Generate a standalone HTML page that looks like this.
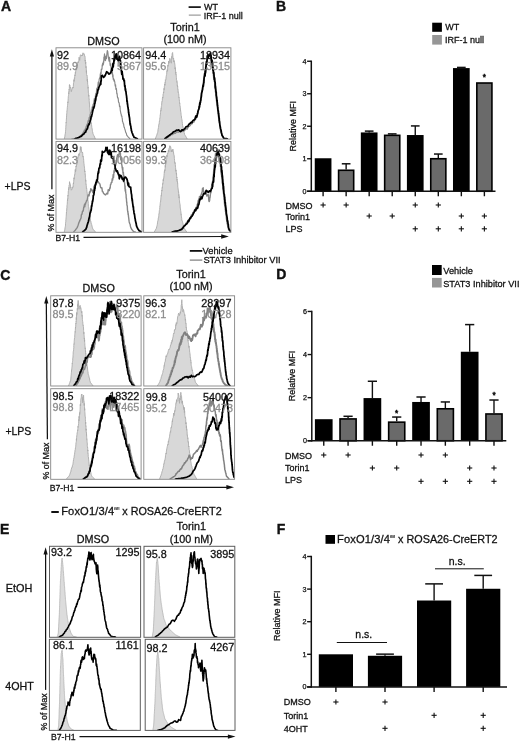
<!DOCTYPE html>
<html><head><meta charset="utf-8"><title>Figure</title>
<style>
html,body{margin:0;padding:0;background:#fff;}
body{width:520px;height:742px;overflow:hidden;font-family:"Liberation Sans",Arial,sans-serif;}
svg{display:block;}
svg text{font-family:"Liberation Sans",Arial,sans-serif;}
</style></head><body>
<svg width="520" height="742" viewBox="0 0 520 742">
<clipPath id="cpA1"><rect x="56.00" y="47.80" width="86.00" height="91.30"/></clipPath>
<g clip-path="url(#cpA1)">
<path d="M64.3 139.0 L64.5 138.0 L64.7 137.0 L64.9 136.2 L65.0 135.0 L65.2 134.1 L65.4 133.2 L65.5 131.7 L65.5 131.1 L65.6 130.2 L65.7 129.5 L65.8 127.4 L65.8 126.7 L65.9 125.4 L66.0 125.5 L66.0 124.3 L66.1 122.2 L66.2 122.8 L66.3 121.8 L66.3 120.2 L66.4 119.1 L66.5 117.2 L66.6 115.9 L66.6 115.9 L66.7 114.0 L66.8 113.2 L66.9 112.3 L66.9 110.8 L67.0 110.7 L67.1 109.7 L67.2 109.6 L67.3 107.7 L67.4 107.0 L67.5 105.6 L67.6 104.9 L67.7 103.4 L67.8 101.8 L67.9 102.7 L68.0 101.7 L68.1 100.2 L68.2 98.8 L68.3 96.6 L68.5 95.3 L68.6 94.4 L68.7 92.6 L68.8 93.7 L68.9 91.5 L69.0 91.9 L69.1 89.3 L69.2 90.2 L69.3 88.8 L69.4 84.8 L69.5 84.5 L69.6 85.9 L69.9 85.4 L70.2 88.2 L70.5 87.3 L70.7 87.2 L71.0 90.1 L71.3 91.7 L72.0 89.0 L72.8 87.3 L73.0 87.0 L73.1 88.1 L73.3 86.4 L73.5 83.1 L73.7 82.5 L73.8 80.9 L74.0 79.6 L74.2 81.3 L74.4 77.9 L74.6 78.3 L74.7 76.8 L74.9 74.8 L75.1 75.8 L75.3 72.4 L75.5 73.4 L75.8 70.2 L76.0 70.3 L76.2 68.4 L76.4 67.6 L76.6 69.5 L76.8 67.8 L77.0 64.5 L77.4 66.0 L77.7 62.0 L78.1 61.7 L78.4 62.8 L78.8 60.8 L79.1 57.2 L79.7 60.3 L80.2 55.6 L80.7 54.7 L81.3 56.1 L81.8 55.0 L82.3 56.0 L82.7 53.8 L83.0 52.8 L83.4 54.2 L84.1 53.6 L84.8 56.4 L85.0 56.3 L85.1 57.8 L85.2 61.2 L85.3 60.0 L85.4 61.5 L85.5 63.9 L85.7 61.9 L85.8 62.8 L85.9 67.2 L86.0 67.8 L86.1 66.4 L86.2 67.2 L86.3 70.6 L86.4 72.5 L86.5 70.5 L86.6 74.6 L86.8 75.4 L86.9 75.3 L87.0 75.7 L87.1 75.5 L87.2 76.3 L87.3 80.9 L87.4 79.2 L87.5 82.0 L87.6 81.4 L87.7 84.5 L87.8 84.8 L87.9 84.8 L88.0 85.4 L88.1 88.3 L88.2 87.2 L88.2 88.8 L88.3 91.0 L88.4 92.9 L88.5 93.2 L88.6 93.3 L88.7 96.3 L88.8 95.2 L88.9 95.7 L89.0 97.5 L89.1 99.1 L89.2 99.0 L89.2 100.4 L89.3 101.9 L89.4 103.5 L89.5 103.3 L89.6 104.9 L89.6 107.3 L89.7 108.5 L89.8 108.7 L89.9 109.8 L90.0 110.5 L90.0 110.5 L90.1 111.3 L90.2 112.3 L90.3 115.2 L90.4 115.8 L90.4 117.3 L90.5 116.4 L90.6 118.6 L90.7 119.3 L90.8 120.8 L90.9 121.1 L91.1 123.4 L91.3 122.8 L91.5 124.7 L91.7 126.1 L91.8 127.4 L92.0 128.1 L92.2 129.1 L92.4 130.3 L92.5 131.5 L92.7 131.9 L92.9 133.3 L93.3 134.4 L93.7 135.3 L94.2 136.0 L94.6 137.1 L95.0 138.1 L95.4 139.0" fill="#d8d8d8" stroke="#ababab" stroke-width="0.9" stroke-linejoin="round" stroke-linecap="round"/>
<path d="M71.7 139.0 L72.8 138.8 L73.8 138.6 L74.9 138.4 L76.0 138.1 L77.0 137.9 L78.1 137.7 L78.9 136.9 L79.8 136.5 L80.6 135.7 L81.5 134.9 L82.3 134.2 L82.8 133.4 L83.4 131.9 L83.9 131.4 L84.4 130.0 L85.0 130.5 L85.5 128.0 L85.8 128.5 L86.2 126.1 L86.5 126.4 L86.9 124.7 L87.2 123.9 L87.6 124.0 L88.0 121.1 L88.3 120.3 L88.7 121.4 L88.9 119.5 L89.2 117.4 L89.5 118.8 L89.8 117.7 L90.1 114.5 L90.4 114.4 L90.7 112.6 L91.0 112.1 L91.3 112.1 L91.5 109.8 L91.8 110.4 L92.1 107.3 L92.4 106.6 L92.7 107.7 L92.9 105.2 L93.2 104.2 L93.5 103.8 L93.8 102.3 L94.0 100.9 L94.3 98.6 L94.6 100.1 L94.8 100.0 L95.1 99.0 L95.3 96.7 L95.6 94.4 L95.8 93.4 L96.1 93.7 L96.4 92.6 L96.6 89.1 L96.9 88.6 L97.1 88.1 L97.4 87.6 L97.6 87.9 L97.9 85.5 L98.2 82.2 L98.4 84.9 L98.7 82.0 L99.0 81.3 L99.2 78.8 L99.5 78.8 L99.8 77.5 L100.0 78.4 L100.3 73.9 L100.6 75.2 L100.8 72.1 L101.1 73.8 L101.3 69.2 L101.6 69.4 L101.8 68.7 L102.0 69.3 L102.2 64.9 L102.4 66.2 L102.6 63.7 L102.8 63.0 L103.0 63.1 L103.3 65.0 L103.5 61.0 L103.7 62.9 L103.9 57.0 L104.1 60.7 L104.3 56.1 L104.5 53.9 L105.0 58.5 L105.5 60.6 L106.0 56.0 L106.3 56.5 L106.5 58.6 L106.8 54.8 L107.0 53.1 L107.3 50.5 L107.8 51.8 L108.3 56.6 L108.8 60.0 L109.0 61.1 L109.3 59.1 L109.5 57.2 L109.8 60.1 L110.0 63.9 L110.2 65.3 L110.4 65.2 L110.7 63.8 L110.9 66.6 L111.1 67.4 L111.3 69.3 L111.5 68.3 L111.7 73.1 L111.9 73.9 L112.2 71.0 L112.5 72.7 L112.7 76.9 L113.0 74.8 L113.2 79.3 L113.5 78.2 L113.8 80.1 L114.0 81.2 L114.3 79.9 L114.6 81.3 L114.8 82.2 L115.1 85.3 L115.4 86.4 L115.6 84.9 L115.9 89.3 L116.2 88.3 L116.4 88.6 L116.6 90.5 L116.8 93.8 L117.0 93.1 L117.2 94.5 L117.4 96.7 L117.6 97.9 L117.9 98.1 L118.1 97.9 L118.3 99.6 L118.5 101.8 L118.7 102.4 L118.9 102.7 L119.1 102.9 L119.3 104.1 L119.5 106.4 L119.8 106.8 L120.0 106.1 L120.2 109.4 L120.4 111.1 L120.6 111.8 L120.8 113.1 L121.0 114.2 L121.2 114.1 L121.4 115.9 L121.7 115.8 L121.9 116.2 L122.1 117.9 L122.3 118.9 L122.5 121.5 L122.8 121.9 L123.0 122.6 L123.3 123.8 L123.6 123.8 L123.8 125.8 L124.1 127.1 L124.4 127.6 L124.6 128.4 L125.0 129.7 L125.3 130.7 L125.7 132.3 L126.0 132.6 L126.4 133.7 L126.7 135.1 L127.5 136.2 L128.3 137.1 L129.1 137.9 L129.9 138.8" fill="none" stroke="#878787" stroke-width="1.15" stroke-linejoin="round" stroke-linecap="round"/>
<path d="M75.1 138.8 L76.2 138.3 L77.2 138.0 L78.3 137.6 L79.3 137.2 L80.4 136.6 L81.5 136.1 L82.3 135.2 L83.2 134.3 L84.0 133.9 L84.8 132.4 L85.7 132.1 L86.1 130.6 L86.5 129.8 L86.9 129.1 L87.3 128.9 L87.7 127.6 L88.1 125.6 L88.5 125.1 L88.9 123.9 L89.2 124.4 L89.4 123.4 L89.7 122.4 L90.0 121.5 L90.3 120.4 L90.6 119.9 L90.9 118.6 L91.2 116.3 L91.5 116.8 L91.8 115.0 L92.0 114.7 L92.3 113.2 L92.5 111.9 L92.8 110.7 L93.0 109.9 L93.3 108.6 L93.5 107.1 L93.8 108.2 L94.0 107.1 L94.2 106.8 L94.5 104.9 L94.7 103.5 L95.0 103.1 L95.2 100.1 L95.5 100.9 L95.8 99.0 L96.0 97.0 L96.3 96.1 L96.6 96.1 L96.9 94.1 L97.1 93.8 L97.4 93.3 L97.7 91.4 L98.0 89.3 L98.4 89.7 L98.8 87.6 L99.2 86.5 L99.7 85.3 L100.1 84.9 L100.5 82.6 L100.6 84.0 L100.8 84.3 L100.9 80.8 L101.1 81.2 L101.2 81.1 L101.3 76.0 L102.4 75.3 L103.5 77.4 L104.5 76.5 L105.6 74.5 L106.6 71.7 L107.7 72.4 L108.8 74.1 L109.8 73.7 L110.9 72.2 L111.9 68.1 L112.2 70.4 L112.5 66.8 L112.7 67.6 L113.0 63.4 L113.2 66.9 L113.5 63.8 L113.8 63.4 L114.0 59.5 L114.3 60.8 L114.5 59.5 L114.7 58.5 L114.9 56.1 L115.1 57.2 L116.2 53.9 L116.3 54.7 L116.5 55.0 L116.7 59.0 L116.9 56.8 L117.0 58.5 L117.2 58.7 L118.3 60.9 L118.8 59.4 L119.3 58.2 L119.5 56.4 L119.8 59.8 L120.0 60.3 L120.2 60.0 L120.4 60.6 L120.5 67.0 L120.7 63.4 L120.8 65.4 L120.9 66.3 L121.1 69.1 L121.2 67.5 L121.3 70.5 L121.4 71.1 L121.8 74.4 L122.1 71.4 L122.4 74.1 L122.7 75.9 L123.0 79.2 L123.4 78.2 L123.7 79.0 L124.0 81.0 L124.2 80.3 L124.3 80.3 L124.5 83.4 L124.7 86.2 L124.8 86.5 L125.0 85.5 L125.2 88.4 L125.3 90.1 L125.5 88.8 L125.7 91.1 L125.8 91.3 L126.0 91.9 L126.1 93.2 L126.2 93.9 L126.4 95.5 L126.5 95.5 L126.7 97.8 L126.8 97.8 L126.9 101.2 L127.1 101.7 L127.2 100.8 L127.4 104.3 L127.5 103.6 L127.7 105.5 L127.8 106.8 L128.0 107.2 L128.1 108.1 L128.3 109.6 L128.4 109.9 L128.6 112.9 L128.7 112.0 L128.9 114.9 L129.0 114.4 L129.1 115.7 L129.3 116.9 L129.4 117.2 L129.6 118.5 L129.7 120.1 L129.9 121.3 L130.0 123.3 L130.2 124.6 L130.3 123.7 L130.5 125.7 L130.8 126.0 L131.0 128.3 L131.2 128.5 L131.4 130.6 L131.6 131.0 L131.8 131.5 L132.0 132.5 L132.6 133.9 L133.1 135.4 L133.6 136.1 L134.1 137.3 L135.2 137.8 L136.3 138.3 L137.3 138.8" fill="none" stroke="#000" stroke-width="1.75" stroke-linejoin="round" stroke-linecap="round"/>
</g>
<rect x="56.00" y="47.80" width="86.00" height="91.30" fill="none" stroke="#858585" stroke-width="0.9"/>
<clipPath id="cpA2"><rect x="143.60" y="47.80" width="87.30" height="91.30"/></clipPath>
<g clip-path="url(#cpA2)">
<path d="M155.4 138.8 L155.7 137.8 L156.1 136.9 L156.4 136.0 L156.8 135.2 L157.1 133.9 L157.5 132.9 L157.7 132.3 L157.9 131.2 L158.0 129.6 L158.2 129.1 L158.4 127.6 L158.6 127.2 L158.7 125.1 L158.9 124.2 L159.1 124.2 L159.3 122.3 L159.4 121.0 L159.6 120.9 L159.7 119.6 L159.9 117.7 L160.0 117.5 L160.1 116.7 L160.2 114.7 L160.4 114.7 L160.5 112.6 L160.6 112.1 L160.7 110.5 L160.9 109.8 L161.0 110.6 L161.1 108.2 L161.2 108.6 L161.4 106.3 L161.5 105.7 L161.6 105.4 L161.7 104.0 L161.9 101.4 L162.1 101.6 L162.3 100.7 L162.4 98.3 L162.6 97.0 L162.8 98.2 L163.0 96.1 L163.1 94.1 L163.3 93.8 L163.5 92.0 L163.7 92.8 L163.8 90.8 L164.0 88.4 L164.2 89.7 L164.4 86.2 L164.6 85.8 L164.7 83.9 L164.9 85.3 L165.1 82.0 L165.3 82.4 L165.4 79.8 L165.6 80.1 L165.8 79.8 L166.0 78.2 L166.1 76.8 L166.3 75.9 L166.5 74.7 L166.7 74.2 L166.8 71.2 L167.0 71.6 L167.2 69.6 L167.4 71.1 L167.6 70.4 L167.7 65.6 L167.9 64.9 L168.1 66.3 L168.4 64.6 L168.6 61.1 L168.9 63.1 L169.2 63.2 L169.5 59.7 L169.8 58.3 L170.5 60.4 L171.3 63.2 L171.4 59.0 L171.6 58.1 L171.7 56.5 L171.9 57.5 L172.0 55.7 L172.2 53.6 L172.3 53.2 L172.6 52.5 L172.8 55.0 L173.1 59.2 L173.4 58.4 L173.6 58.0 L173.8 62.1 L174.0 60.5 L174.2 61.1 L174.4 61.2 L174.6 62.8 L174.8 64.1 L175.0 65.3 L175.1 69.1 L175.3 67.6 L175.4 68.6 L175.6 71.1 L175.7 73.4 L175.8 72.0 L176.0 74.9 L176.1 74.4 L176.3 76.2 L176.4 77.4 L176.5 79.8 L176.7 80.0 L176.8 80.1 L176.9 82.3 L177.0 81.6 L177.2 82.6 L177.3 85.7 L177.4 85.2 L177.5 87.0 L177.7 86.4 L177.8 89.4 L177.9 89.4 L178.0 89.2 L178.2 92.4 L178.3 91.9 L178.4 92.5 L178.5 93.3 L178.7 93.8 L178.8 95.1 L178.9 97.6 L179.0 97.0 L179.2 98.3 L179.3 99.8 L179.4 101.1 L179.5 101.7 L179.7 103.7 L179.8 103.3 L179.9 104.6 L180.0 105.8 L180.1 106.0 L180.3 107.3 L180.4 108.1 L180.5 110.5 L180.6 110.1 L180.8 112.3 L180.9 112.4 L181.1 114.4 L181.2 115.4 L181.4 115.9 L181.5 118.1 L181.7 118.6 L181.8 119.4 L182.0 119.6 L182.1 121.3 L182.3 122.1 L182.4 123.5 L182.6 125.3 L182.7 126.3 L182.9 126.1 L183.1 128.1 L183.4 129.5 L183.6 130.0 L183.9 130.4 L184.1 132.4 L184.3 133.0 L184.6 134.5 L185.1 135.3 L185.6 136.1 L186.1 137.0 L186.6 137.8 L187.1 138.8" fill="#d8d8d8" stroke="#ababab" stroke-width="0.9" stroke-linejoin="round" stroke-linecap="round"/>
<path d="M166.0 138.6 L166.8 138.1 L167.7 137.3 L168.5 136.9 L169.3 136.1 L170.2 135.9 L171.3 134.6 L172.3 134.7 L173.4 133.9 L174.4 133.5 L175.5 133.4 L176.5 132.2 L177.6 132.1 L178.7 132.3 L179.7 131.4 L180.8 131.1 L181.8 130.8 L182.9 131.6 L183.9 131.0 L185.0 130.3 L186.1 128.5 L187.1 129.3 L188.0 127.7 L188.8 126.4 L189.7 126.1 L190.5 125.2 L191.3 123.7 L192.0 123.9 L192.6 122.6 L193.3 122.2 L193.9 122.3 L194.5 120.7 L195.0 119.2 L195.4 119.5 L195.9 119.0 L196.3 116.7 L196.8 117.1 L197.2 113.6 L197.7 113.0 L197.9 112.0 L198.1 113.2 L198.3 111.4 L198.5 110.5 L198.8 108.1 L199.0 107.7 L199.2 107.9 L199.4 104.2 L199.6 103.2 L199.8 101.9 L200.0 102.3 L200.2 102.6 L200.3 100.5 L200.5 98.9 L200.7 98.2 L200.9 95.9 L201.0 97.8 L201.2 94.4 L201.4 92.9 L201.6 92.1 L201.8 93.2 L201.9 90.0 L202.1 91.5 L202.3 87.9 L202.5 87.3 L202.6 84.6 L202.8 87.4 L203.0 85.8 L203.2 83.2 L203.3 80.5 L203.5 81.2 L203.7 79.6 L203.9 80.8 L204.0 80.2 L204.2 78.3 L204.4 74.9 L204.6 72.5 L204.7 75.9 L204.9 75.2 L205.1 69.9 L205.2 70.7 L205.4 69.5 L205.6 71.2 L205.7 64.9 L205.9 63.9 L206.1 67.4 L206.3 64.7 L206.5 63.0 L206.7 63.9 L206.8 61.7 L207.0 61.3 L207.2 57.5 L207.6 55.4 L208.0 53.8 L208.3 54.8 L208.7 55.8 L210.4 55.1 L210.6 56.0 L210.8 58.7 L211.0 60.3 L211.2 60.7 L211.4 60.0 L211.5 64.2 L211.7 65.1 L211.9 66.6 L212.1 67.7 L212.3 63.6 L212.5 68.5 L212.6 67.6 L212.8 68.9 L212.9 70.6 L213.0 69.5 L213.1 71.1 L213.3 76.1 L213.4 73.6 L213.5 77.6 L213.6 77.4 L213.7 76.5 L213.9 77.5 L214.0 80.0 L214.1 81.4 L214.2 80.7 L214.4 80.3 L214.5 81.9 L214.6 86.1 L214.7 86.5 L214.8 84.7 L215.0 88.9 L215.1 88.8 L215.2 88.7 L215.3 92.1 L215.4 89.9 L215.5 90.8 L215.6 92.8 L215.7 95.4 L215.8 95.6 L216.0 96.4 L216.1 99.0 L216.2 98.1 L216.3 100.5 L216.4 98.6 L216.5 102.5 L216.6 101.2 L216.7 104.0 L216.9 105.6 L217.0 106.0 L217.1 106.7 L217.2 107.6 L217.4 109.2 L217.5 109.0 L217.6 109.6 L217.7 111.6 L217.9 112.5 L218.0 112.3 L218.1 114.5 L218.2 115.3 L218.4 115.5 L218.5 117.9 L218.6 119.1 L218.7 119.0 L218.9 121.3 L219.0 122.6 L219.2 122.9 L219.4 123.4 L219.6 124.1 L219.7 124.9 L219.9 126.3 L220.1 128.8 L220.3 128.0 L220.4 130.7 L220.6 131.3 L220.8 132.4 L221.0 132.6 L221.4 134.1 L221.8 134.7 L222.2 135.9 L222.7 136.9 L223.1 137.7 L223.5 138.6" fill="none" stroke="#878787" stroke-width="1.15" stroke-linejoin="round" stroke-linecap="round"/>
<path d="M164.9 138.6 L166.0 137.8 L167.0 137.0 L168.1 136.2 L168.9 135.6 L169.8 134.9 L170.6 134.5 L171.5 133.5 L172.3 133.2 L173.4 131.9 L174.4 131.7 L175.5 131.1 L176.5 130.1 L177.6 130.3 L178.7 129.9 L179.7 131.1 L180.8 131.7 L181.8 129.8 L182.9 130.2 L183.9 129.4 L185.0 128.4 L186.1 126.6 L187.1 126.7 L187.9 126.2 L188.7 124.7 L189.5 123.8 L190.3 123.2 L191.1 122.3 L191.9 122.6 L192.7 120.9 L193.5 120.2 L194.1 119.9 L194.7 119.7 L195.4 117.4 L196.0 115.9 L196.6 117.3 L197.0 115.9 L197.3 114.8 L197.7 113.0 L198.0 111.2 L198.4 109.9 L198.8 109.3 L199.0 108.6 L199.2 106.4 L199.4 107.2 L199.6 106.3 L199.8 103.0 L200.0 104.6 L200.2 102.4 L200.4 102.7 L200.7 100.2 L200.9 100.2 L201.0 98.0 L201.2 97.5 L201.4 96.1 L201.6 93.3 L201.8 92.6 L201.9 91.9 L202.1 91.5 L202.3 90.3 L202.5 89.9 L202.6 89.3 L202.8 87.2 L203.0 85.8 L203.2 85.5 L203.3 86.4 L203.5 84.6 L203.7 83.0 L203.9 82.7 L204.0 79.0 L204.2 77.3 L204.4 76.2 L204.6 75.2 L204.7 73.6 L204.9 75.5 L205.1 75.9 L205.2 70.9 L205.4 72.7 L205.5 72.9 L205.7 71.0 L205.8 66.8 L206.0 68.2 L206.1 65.2 L206.3 63.7 L206.4 61.7 L206.6 63.4 L206.8 64.5 L207.1 58.9 L207.3 58.1 L207.5 58.4 L207.8 55.3 L208.0 56.7 L208.3 57.2 L210.0 54.6 L210.3 53.2 L210.7 54.2 L211.1 56.2 L211.4 60.0 L211.6 62.5 L211.8 61.2 L212.0 60.0 L212.2 61.7 L212.3 63.9 L212.5 63.3 L212.7 64.4 L212.9 67.2 L213.0 70.3 L213.2 68.3 L213.4 72.6 L213.6 73.6 L213.7 72.4 L213.8 72.4 L213.9 73.2 L214.1 76.5 L214.2 78.2 L214.3 79.4 L214.4 77.4 L214.6 79.4 L214.7 78.6 L214.8 80.8 L214.9 81.8 L215.1 82.1 L215.2 82.9 L215.3 87.7 L215.4 85.9 L215.6 87.7 L215.7 88.8 L215.8 89.5 L215.9 91.0 L216.0 91.7 L216.1 92.6 L216.2 92.1 L216.3 95.2 L216.5 96.3 L216.6 97.5 L216.7 97.0 L216.8 98.5 L216.9 100.7 L217.0 101.4 L217.1 100.2 L217.2 102.2 L217.3 102.6 L217.5 105.3 L217.6 105.4 L217.7 106.4 L217.8 106.9 L217.9 108.6 L218.0 110.3 L218.2 111.0 L218.3 110.9 L218.4 112.4 L218.5 114.0 L218.7 113.5 L218.8 116.7 L218.9 115.5 L219.0 117.9 L219.2 117.8 L219.3 120.7 L219.4 121.1 L219.5 121.0 L219.7 122.6 L219.8 124.3 L219.9 125.3 L220.1 126.0 L220.3 127.0 L220.5 128.2 L220.8 129.6 L221.0 129.9 L221.2 131.2 L221.4 132.4 L221.6 133.1 L221.8 133.9 L222.0 135.2 L222.7 136.2 L223.4 137.4 L224.1 138.4 L225.2 138.5 L226.3 138.6 L227.3 138.8" fill="none" stroke="#000" stroke-width="1.75" stroke-linejoin="round" stroke-linecap="round"/>
</g>
<rect x="143.60" y="47.80" width="87.30" height="91.30" fill="none" stroke="#858585" stroke-width="0.9"/>
<clipPath id="cpA3"><rect x="56.00" y="141.40" width="86.00" height="90.90"/></clipPath>
<g clip-path="url(#cpA3)">
<path d="M64.3 231.9 L64.5 230.9 L64.7 230.0 L64.9 229.1 L65.0 227.8 L65.2 227.2 L65.4 226.2 L65.5 225.1 L65.5 223.4 L65.6 222.3 L65.7 221.8 L65.8 221.3 L65.9 219.5 L66.0 218.9 L66.0 217.6 L66.1 217.5 L66.2 216.7 L66.3 214.7 L66.4 214.8 L66.4 212.1 L66.5 212.5 L66.6 211.6 L66.7 209.2 L66.8 209.3 L66.8 208.0 L66.9 207.8 L67.0 205.2 L67.1 204.9 L67.2 204.6 L67.3 203.0 L67.4 201.2 L67.5 199.6 L67.6 200.6 L67.7 198.4 L67.8 198.7 L67.9 195.4 L68.0 196.1 L68.1 195.1 L68.2 194.3 L68.3 190.8 L68.5 190.7 L68.6 188.7 L68.7 189.7 L68.8 187.5 L69.0 188.2 L69.1 185.4 L69.2 185.6 L69.4 184.8 L69.5 181.7 L69.6 181.7 L69.8 184.1 L70.0 183.7 L70.3 184.3 L70.5 185.0 L70.7 187.7 L70.9 187.0 L71.1 189.3 L71.3 190.2 L72.0 189.1 L72.8 186.8 L72.9 187.3 L73.1 187.1 L73.2 184.1 L73.4 183.1 L73.5 183.9 L73.7 181.8 L73.8 179.7 L74.0 177.8 L74.2 179.2 L74.3 176.8 L74.5 176.1 L74.6 174.4 L74.8 174.6 L74.9 173.9 L75.1 171.3 L75.3 169.4 L75.5 171.8 L75.8 170.4 L76.0 165.9 L76.2 167.0 L76.4 166.4 L76.6 164.2 L76.8 164.5 L77.0 164.4 L77.3 161.8 L77.6 159.9 L77.8 158.0 L78.1 157.2 L78.3 155.7 L78.6 154.4 L78.9 153.8 L79.1 155.6 L79.4 153.2 L79.6 153.3 L79.9 152.9 L80.1 151.3 L80.4 146.6 L80.6 149.8 L81.0 146.8 L81.5 151.1 L81.9 152.5 L82.1 152.7 L82.3 152.5 L82.5 152.1 L82.7 153.2 L82.9 156.8 L83.2 156.1 L83.4 158.4 L83.5 158.3 L83.6 158.9 L83.7 160.6 L83.9 163.4 L84.0 163.5 L84.1 164.2 L84.2 165.6 L84.4 166.9 L84.5 167.9 L84.6 168.6 L84.7 171.7 L84.8 171.9 L84.9 170.9 L85.0 172.3 L85.1 172.8 L85.2 174.5 L85.3 174.3 L85.4 177.8 L85.5 178.2 L85.6 178.7 L85.7 181.3 L85.8 180.3 L85.9 182.2 L86.0 184.3 L86.1 184.1 L86.2 185.3 L86.3 185.5 L86.4 188.4 L86.5 188.7 L86.7 188.3 L86.8 189.5 L86.9 191.2 L87.0 191.9 L87.1 193.0 L87.2 193.1 L87.3 195.1 L87.4 196.4 L87.5 197.6 L87.7 197.8 L87.8 198.8 L87.9 199.9 L88.0 201.0 L88.1 201.9 L88.2 201.8 L88.3 203.4 L88.4 206.0 L88.5 206.6 L88.7 206.9 L88.8 208.5 L89.0 208.5 L89.1 209.6 L89.3 211.2 L89.4 212.6 L89.6 212.4 L89.7 214.3 L89.9 216.1 L90.0 216.6 L90.2 218.3 L90.3 217.9 L90.5 220.2 L90.6 221.2 L90.8 221.1 L91.1 222.8 L91.4 224.2 L91.7 224.6 L92.0 226.1 L92.3 227.3 L92.6 228.2 L92.9 229.1 L93.7 229.9 L94.6 231.0 L95.4 231.9" fill="#d8d8d8" stroke="#ababab" stroke-width="0.9" stroke-linejoin="round" stroke-linecap="round"/>
<path d="M73.8 231.9 L74.6 230.9 L75.4 230.0 L76.2 228.9 L77.0 227.9 L77.4 227.1 L77.7 226.2 L78.1 225.2 L78.4 224.3 L78.8 223.0 L79.1 222.0 L79.5 221.9 L79.8 220.2 L80.2 220.0 L80.5 219.3 L80.8 218.5 L81.1 217.7 L81.3 215.2 L81.6 214.2 L81.9 214.4 L82.2 213.1 L82.5 211.2 L82.8 211.4 L83.1 211.0 L83.4 210.0 L83.7 207.3 L84.1 206.6 L84.4 204.8 L84.8 206.7 L85.1 203.5 L85.5 204.1 L85.8 202.6 L86.2 201.8 L86.5 200.7 L87.0 200.6 L87.4 198.8 L87.8 196.7 L88.2 195.0 L88.7 195.2 L89.1 195.8 L89.5 191.9 L89.9 192.8 L90.3 191.6 L90.8 188.7 L91.8 189.9 L92.9 192.8 L93.2 190.8 L93.5 189.6 L93.7 188.9 L94.0 186.3 L94.3 187.7 L94.6 186.1 L95.1 184.9 L95.6 183.0 L96.2 184.0 L96.7 183.0 L97.3 182.5 L98.0 181.4 L98.6 182.4 L99.2 183.3 L99.9 184.0 L100.6 187.4 L101.3 188.1 L101.9 187.8 L102.4 191.6 L102.9 191.6 L103.5 193.2 L104.5 194.3 L105.6 194.9 L106.6 193.3 L107.7 193.9 L108.2 189.7 L108.8 190.7 L109.3 190.5 L109.8 187.8 L110.2 188.1 L110.5 184.5 L110.9 184.4 L111.2 182.7 L111.6 182.2 L111.9 182.4 L112.2 178.9 L112.5 178.7 L112.7 180.0 L113.0 176.4 L113.2 174.5 L113.5 177.6 L113.8 174.3 L114.0 170.7 L114.3 172.4 L114.5 169.2 L114.7 168.2 L114.9 170.1 L115.1 168.6 L115.3 166.3 L115.5 165.8 L115.7 164.9 L115.9 163.3 L116.1 160.3 L116.3 163.0 L116.5 161.9 L116.7 158.9 L116.8 157.7 L117.0 157.9 L117.2 156.0 L117.7 154.6 L118.2 156.3 L118.7 155.5 L119.5 151.9 L120.4 153.1 L120.6 157.9 L120.8 159.9 L121.0 159.6 L121.2 158.2 L121.4 157.9 L121.6 163.3 L121.7 164.9 L121.9 165.0 L122.0 165.9 L122.2 168.2 L122.3 166.9 L122.5 170.0 L122.6 167.6 L122.8 167.7 L122.9 172.7 L123.1 173.0 L123.2 174.5 L123.4 172.3 L123.5 174.2 L123.6 176.7 L123.8 175.3 L123.9 177.6 L124.1 179.9 L124.2 182.4 L124.3 182.5 L124.5 182.2 L124.6 183.3 L124.7 184.8 L124.9 186.8 L125.0 188.9 L125.1 185.9 L125.2 190.6 L125.3 191.2 L125.5 189.3 L125.6 191.2 L125.7 192.3 L125.8 193.2 L126.0 194.1 L126.1 195.1 L126.2 198.0 L126.3 198.3 L126.4 198.2 L126.6 201.7 L126.7 202.7 L126.8 202.0 L126.9 204.8 L127.1 205.6 L127.2 206.0 L127.3 205.8 L127.4 208.6 L127.5 210.1 L127.7 211.1 L127.8 212.3 L127.9 211.4 L128.1 214.4 L128.2 213.4 L128.4 215.1 L128.5 216.5 L128.7 217.8 L128.8 218.6 L129.0 220.5 L129.1 221.2 L129.3 222.4 L129.6 223.1 L129.8 223.8 L130.1 224.2 L130.4 226.1 L130.7 227.4 L131.0 227.9 L131.7 229.4 L132.4 230.1 L133.1 231.2 L134.1 231.6 L135.2 231.9" fill="none" stroke="#878787" stroke-width="1.4" stroke-linejoin="round" stroke-linecap="round"/>
<path d="M82.7 231.9 L83.5 231.2 L84.3 230.6 L85.1 229.8 L85.9 229.1 L86.3 228.0 L86.6 227.5 L87.0 225.7 L87.4 224.4 L87.7 223.5 L88.1 222.4 L88.4 221.4 L88.7 220.3 L88.9 218.9 L89.1 218.2 L89.4 217.1 L89.6 216.6 L89.8 214.8 L90.0 213.4 L90.3 212.6 L90.5 212.3 L90.7 210.9 L91.0 210.7 L91.2 209.8 L91.4 207.8 L91.5 205.9 L91.7 206.5 L91.9 205.5 L92.1 203.5 L92.3 203.1 L92.4 201.1 L92.6 201.8 L92.8 200.5 L93.0 199.4 L93.1 198.8 L93.3 195.5 L93.5 195.4 L93.7 195.0 L93.9 194.2 L94.2 191.7 L94.4 189.8 L94.6 190.5 L94.8 187.5 L95.0 188.6 L95.2 185.0 L95.4 185.6 L95.7 184.6 L96.0 182.2 L96.2 182.5 L96.5 181.5 L96.7 179.9 L97.0 181.1 L97.3 179.9 L97.5 179.0 L97.8 175.1 L98.0 173.1 L98.2 173.6 L98.4 171.3 L98.6 173.0 L98.8 169.9 L99.0 168.2 L99.2 167.8 L99.4 167.3 L99.7 167.9 L99.9 165.5 L100.2 163.6 L100.5 164.5 L100.7 160.2 L101.0 159.9 L101.2 161.4 L101.5 160.7 L101.8 156.1 L101.9 154.9 L102.0 156.2 L102.2 156.0 L102.3 151.3 L102.4 152.6 L103.5 152.2 L104.5 151.7 L104.9 151.1 L105.2 150.7 L105.6 150.7 L105.9 147.5 L106.3 149.5 L106.6 149.9 L106.9 149.8 L107.1 147.3 L107.4 151.7 L107.6 152.7 L107.9 150.2 L108.1 153.4 L108.5 153.8 L109.0 154.5 L109.4 153.3 L109.8 150.2 L110.1 151.4 L110.4 154.5 L110.7 151.3 L110.9 154.1 L111.2 152.7 L111.5 157.7 L112.2 158.0 L113.0 156.7 L113.2 157.7 L113.5 160.5 L113.7 162.7 L114.0 160.6 L114.2 162.7 L114.5 164.7 L114.9 164.5 L115.3 168.6 L115.7 168.9 L116.2 171.0 L116.6 170.6 L117.0 171.8 L117.4 171.0 L117.9 173.1 L118.2 173.8 L118.6 175.1 L119.0 174.4 L119.3 178.8 L120.4 175.3 L121.4 176.1 L122.2 179.1 L122.9 178.4 L123.6 181.0 L124.6 177.4 L125.7 177.2 L126.2 177.9 L126.7 178.7 L127.2 179.9 L127.5 181.3 L127.8 184.0 L128.2 185.5 L128.5 183.2 L128.9 186.4 L129.7 186.9 L130.5 187.6 L130.7 187.3 L130.8 189.5 L131.0 190.4 L131.1 191.7 L131.3 193.5 L131.4 193.8 L131.6 194.6 L131.7 195.6 L131.9 198.9 L132.0 198.1 L132.2 201.0 L132.3 199.6 L132.5 202.1 L132.6 202.9 L132.8 204.3 L132.9 204.9 L133.1 206.9 L133.2 207.2 L133.4 206.8 L133.5 209.5 L133.7 210.4 L133.8 210.6 L134.0 212.7 L134.2 214.0 L134.4 213.8 L134.5 214.6 L134.7 216.0 L134.9 217.7 L135.0 218.5 L135.2 218.8 L135.4 220.6 L135.7 221.8 L135.9 222.9 L136.2 223.6 L136.4 225.3 L136.6 226.2 L136.9 226.8 L137.4 227.8 L137.9 229.0 L138.5 229.6 L139.0 230.6 L140.3 231.2 L141.5 231.9" fill="none" stroke="#000" stroke-width="1.75" stroke-linejoin="round" stroke-linecap="round"/>
</g>
<rect x="56.00" y="141.40" width="86.00" height="90.90" fill="none" stroke="#858585" stroke-width="0.9"/>
<clipPath id="cpA4"><rect x="143.60" y="141.40" width="87.30" height="90.90"/></clipPath>
<g clip-path="url(#cpA4)">
<path d="M154.3 231.9 L154.9 231.0 L155.4 230.0 L155.9 229.1 L156.4 228.3 L156.7 226.8 L156.9 226.1 L157.1 225.4 L157.3 224.4 L157.5 222.9 L157.7 221.3 L157.9 220.5 L158.1 220.4 L158.3 217.9 L158.6 217.2 L158.7 217.3 L158.8 215.4 L158.9 214.0 L159.1 213.2 L159.2 213.3 L159.3 211.2 L159.4 210.4 L159.6 209.8 L159.7 209.2 L159.8 207.5 L159.9 205.7 L160.1 205.7 L160.2 203.5 L160.3 202.6 L160.4 201.9 L160.6 202.0 L160.7 200.1 L160.8 200.1 L160.9 197.7 L161.0 196.6 L161.2 195.4 L161.3 196.1 L161.4 195.6 L161.5 192.8 L161.7 191.9 L161.8 190.2 L161.9 191.0 L162.0 189.0 L162.2 187.6 L162.3 188.1 L162.4 186.9 L162.5 185.5 L162.7 183.6 L162.8 184.1 L162.9 182.8 L163.1 181.3 L163.2 179.4 L163.4 180.9 L163.5 179.6 L163.7 178.0 L163.8 178.0 L164.0 175.5 L164.2 173.6 L164.3 171.7 L164.5 172.4 L164.6 171.0 L164.8 169.7 L164.9 170.8 L165.1 169.1 L165.3 165.2 L165.4 167.2 L165.6 162.6 L165.8 164.2 L166.0 161.7 L166.1 162.4 L166.3 162.3 L166.5 159.5 L166.7 159.4 L166.8 155.2 L167.0 156.9 L167.4 153.4 L167.7 153.8 L168.1 152.2 L168.4 149.9 L168.8 152.0 L169.1 147.9 L169.5 147.6 L169.8 145.7 L170.2 147.4 L170.4 146.7 L170.6 146.6 L170.8 147.6 L171.0 149.5 L171.3 152.0 L171.5 150.7 L171.9 149.7 L172.3 151.7 L172.7 149.9 L172.9 149.1 L173.2 151.0 L173.4 151.3 L173.6 153.0 L173.8 154.6 L174.0 154.9 L174.2 155.9 L174.3 157.1 L174.4 158.5 L174.6 160.6 L174.7 163.1 L174.9 163.1 L175.0 163.3 L175.2 162.6 L175.3 164.4 L175.5 167.3 L175.6 167.4 L175.7 170.1 L175.9 171.3 L176.0 169.9 L176.1 171.2 L176.2 172.0 L176.4 174.3 L176.5 173.2 L176.6 174.9 L176.7 178.0 L176.9 177.2 L177.0 180.3 L177.1 179.3 L177.2 181.8 L177.4 181.5 L177.5 181.4 L177.6 183.9 L177.7 183.7 L177.8 187.0 L177.9 187.3 L178.0 187.8 L178.2 189.9 L178.3 189.8 L178.4 192.0 L178.5 192.3 L178.6 191.8 L178.7 193.1 L178.8 195.6 L178.9 194.6 L179.0 197.9 L179.2 196.5 L179.3 199.3 L179.4 200.0 L179.5 200.5 L179.6 201.9 L179.7 202.9 L179.8 203.4 L180.0 204.2 L180.1 204.7 L180.2 207.0 L180.3 208.5 L180.5 208.4 L180.6 210.4 L180.7 210.5 L180.8 211.2 L181.0 213.2 L181.1 214.4 L181.2 213.9 L181.3 216.3 L181.5 216.3 L181.6 218.1 L181.7 218.3 L181.8 220.4 L182.1 220.4 L182.4 221.3 L182.6 222.2 L182.9 223.4 L183.2 224.4 L183.4 226.3 L183.7 226.7 L183.9 227.9 L184.6 228.9 L185.3 229.9 L186.0 231.0 L186.7 231.9" fill="#d8d8d8" stroke="#ababab" stroke-width="0.9" stroke-linejoin="round" stroke-linecap="round"/>
<path d="M173.4 231.9 L174.4 231.6 L175.5 231.3 L176.5 231.1 L177.6 230.8 L178.7 230.4 L179.7 230.3 L180.8 229.6 L181.8 228.8 L182.9 228.1 L183.5 227.0 L184.2 225.8 L184.8 225.4 L185.4 224.8 L186.1 223.1 L186.7 223.5 L187.3 221.7 L188.0 220.8 L188.6 219.6 L189.2 220.6 L189.8 219.2 L190.3 218.7 L190.8 217.2 L191.3 215.0 L191.9 214.8 L192.4 214.3 L192.9 212.5 L193.5 213.7 L194.0 211.4 L194.5 209.9 L195.1 210.8 L195.6 208.0 L196.0 209.2 L196.4 206.8 L196.9 206.0 L197.3 204.3 L197.7 203.7 L198.0 201.7 L198.3 200.2 L198.6 201.8 L198.9 198.6 L199.2 199.4 L199.5 196.4 L199.8 198.0 L200.3 196.7 L200.9 195.2 L201.4 194.1 L201.9 192.4 L202.2 191.9 L202.5 188.5 L202.7 188.9 L203.0 189.2 L203.2 187.8 L203.5 191.6 L203.7 192.5 L204.0 191.8 L204.2 192.7 L204.5 194.1 L206.2 192.8 L206.9 196.0 L207.6 194.9 L208.3 194.7 L208.5 196.0 L208.7 199.2 L208.9 201.1 L209.1 200.6 L209.3 201.6 L209.5 200.7 L209.7 200.3 L209.8 197.5 L210.0 197.8 L210.2 196.5 L210.3 195.7 L210.5 193.1 L210.6 192.0 L210.8 191.5 L211.0 192.7 L211.2 189.4 L211.3 189.3 L211.5 187.1 L211.7 185.2 L211.8 184.0 L212.0 186.0 L212.2 184.8 L212.3 182.1 L212.5 182.3 L212.6 181.3 L212.7 181.2 L212.9 180.5 L213.0 176.9 L213.1 178.6 L213.2 177.4 L213.4 174.6 L213.5 175.0 L213.6 172.0 L213.7 170.3 L213.8 168.6 L214.0 170.8 L214.1 166.0 L214.2 164.4 L214.3 167.3 L214.5 166.1 L214.6 163.5 L214.7 164.4 L214.9 158.9 L215.0 159.0 L215.1 158.1 L215.3 157.8 L215.4 155.3 L215.5 153.6 L215.7 154.1 L215.9 156.5 L216.2 156.0 L216.5 153.5 L216.7 150.7 L217.3 150.4 L217.9 155.8 L218.4 154.2 L218.6 156.5 L218.9 153.3 L219.1 155.5 L219.3 160.2 L219.5 161.0 L219.7 162.6 L219.9 162.0 L220.1 162.1 L220.2 164.0 L220.4 166.5 L220.5 164.6 L220.6 166.9 L220.7 166.6 L220.8 170.2 L221.0 167.4 L221.1 171.9 L221.2 174.3 L221.3 170.7 L221.5 174.6 L221.6 175.9 L221.7 177.9 L221.8 177.7 L221.9 177.2 L222.0 178.9 L222.1 182.4 L222.2 183.1 L222.3 180.7 L222.4 181.5 L222.5 182.6 L222.6 183.3 L222.7 186.1 L222.8 185.8 L222.9 189.7 L223.0 189.9 L223.1 188.8 L223.2 191.4 L223.3 191.6 L223.4 193.2 L223.5 193.2 L223.6 194.1 L223.7 195.2 L223.9 197.0 L224.0 199.2 L224.1 199.7 L224.2 199.1 L224.4 202.3 L224.5 203.9 L224.6 204.6 L224.7 205.7 L224.8 204.4 L225.0 206.8 L225.1 206.8 L225.2 209.8 L225.3 209.2 L225.5 211.7 L225.6 211.6 L225.8 213.8 L225.9 213.9 L226.0 214.3 L226.2 216.2 L226.3 217.1 L226.5 219.4 L226.6 219.2 L226.7 220.7 L226.9 221.8 L227.1 223.6 L227.3 223.0 L227.5 224.9 L227.7 225.8 L227.9 227.0 L228.2 228.1 L228.4 228.7 L228.6 229.8 L229.6 230.8 L230.7 231.9" fill="none" stroke="#878787" stroke-width="1.4" stroke-linejoin="round" stroke-linecap="round"/>
<path d="M172.3 231.9 L173.4 231.7 L174.4 231.4 L175.5 231.2 L176.5 231.1 L177.6 230.8 L178.7 230.5 L179.7 230.2 L180.8 229.6 L181.8 229.3 L182.5 228.1 L183.1 227.8 L183.7 226.4 L184.4 225.9 L185.0 225.5 L185.8 224.4 L186.6 224.0 L187.4 222.9 L188.2 220.9 L188.7 221.5 L189.2 220.1 L189.8 218.7 L190.3 217.6 L190.8 218.0 L191.3 216.6 L191.9 216.5 L192.4 215.3 L192.9 214.8 L193.5 213.1 L194.0 212.5 L194.5 211.4 L195.2 209.7 L195.8 210.6 L196.4 208.1 L197.1 208.5 L197.7 208.1 L198.0 206.3 L198.4 203.8 L198.8 204.7 L199.1 203.2 L199.5 200.7 L199.8 199.2 L200.5 199.6 L201.2 197.0 L201.9 198.7 L202.5 196.4 L203.0 195.3 L203.5 193.9 L204.0 193.7 L205.1 193.6 L206.2 190.4 L207.2 191.2 L208.3 192.4 L209.3 190.9 L210.4 191.4 L211.0 190.2 L211.5 188.7 L212.1 188.5 L212.3 186.9 L212.5 184.2 L212.6 186.6 L212.8 183.1 L213.0 182.3 L213.2 181.1 L213.4 182.2 L213.6 181.3 L213.7 178.4 L213.8 176.9 L213.9 174.5 L214.1 176.9 L214.2 172.7 L214.3 173.3 L214.4 171.3 L214.5 170.2 L214.7 169.2 L214.8 167.4 L214.9 165.6 L215.0 166.9 L215.2 167.1 L215.3 165.4 L215.4 162.1 L215.6 163.5 L215.7 159.1 L215.8 159.9 L215.9 161.1 L216.1 160.5 L216.2 157.0 L216.3 158.1 L216.6 155.1 L216.8 154.2 L217.1 153.5 L217.3 154.7 L217.6 152.3 L218.2 151.8 L218.9 154.3 L219.1 154.8 L219.3 154.3 L219.6 157.7 L219.8 158.9 L220.1 158.9 L220.3 161.7 L220.5 157.9 L220.7 161.4 L220.8 163.2 L220.9 162.8 L221.0 163.0 L221.1 166.6 L221.3 166.4 L221.4 166.7 L221.5 166.7 L221.6 172.1 L221.8 170.3 L221.9 170.3 L222.0 171.8 L222.1 173.0 L222.2 176.8 L222.3 174.8 L222.4 176.2 L222.5 176.5 L222.6 179.1 L222.7 179.0 L222.8 180.5 L222.9 183.1 L223.0 184.8 L223.1 185.5 L223.2 183.4 L223.3 185.7 L223.4 188.4 L223.5 186.4 L223.6 188.1 L223.7 190.1 L223.8 190.7 L223.9 193.0 L224.0 193.9 L224.2 194.1 L224.3 194.5 L224.4 195.5 L224.5 196.7 L224.7 197.1 L224.8 200.0 L224.9 199.6 L225.0 202.8 L225.1 203.1 L225.3 202.5 L225.4 204.8 L225.5 206.1 L225.6 205.7 L225.8 208.0 L225.9 207.9 L226.0 210.7 L226.2 210.0 L226.3 212.5 L226.5 214.4 L226.6 215.1 L226.7 214.8 L226.9 216.5 L227.0 216.8 L227.2 218.3 L227.3 220.3 L227.5 221.3 L227.7 220.9 L227.9 222.6 L228.1 224.1 L228.3 224.5 L228.4 226.3 L228.6 227.4 L228.8 228.1 L229.0 229.1 L229.7 230.2 L230.4 231.0 L231.1 231.9" fill="none" stroke="#000" stroke-width="1.75" stroke-linejoin="round" stroke-linecap="round"/>
</g>
<rect x="143.60" y="141.40" width="87.30" height="90.90" fill="none" stroke="#858585" stroke-width="0.9"/>
<clipPath id="cpC1"><rect x="50.70" y="295.80" width="90.40" height="90.20"/></clipPath>
<g clip-path="url(#cpC1)">
<path d="M68.6 385.7 L69.0 384.7 L69.4 383.6 L69.8 382.6 L70.3 381.0 L70.7 380.3 L70.8 379.1 L70.9 378.1 L71.0 376.5 L71.1 375.5 L71.2 374.8 L71.3 373.4 L71.4 372.7 L71.5 371.0 L71.6 370.0 L71.7 370.0 L71.8 368.4 L71.9 367.5 L72.0 366.9 L72.2 365.1 L72.2 363.5 L72.3 364.0 L72.4 362.6 L72.5 361.7 L72.6 360.6 L72.7 360.4 L72.8 358.1 L72.9 358.0 L73.0 356.1 L73.0 355.5 L73.1 354.8 L73.2 352.9 L73.3 351.3 L73.4 351.3 L73.5 350.9 L73.6 349.6 L73.7 348.2 L73.8 347.7 L73.8 345.5 L73.9 344.4 L74.0 343.8 L74.1 344.3 L74.2 341.4 L74.3 340.2 L74.4 339.1 L74.5 337.9 L74.6 337.6 L74.6 337.6 L74.7 337.4 L74.8 334.8 L74.9 333.9 L75.0 332.6 L75.1 331.6 L75.2 332.3 L75.3 330.5 L75.4 328.4 L75.5 326.9 L75.5 328.4 L75.6 327.0 L75.7 326.4 L75.8 323.1 L75.9 323.3 L76.0 323.7 L76.1 321.3 L76.2 321.7 L76.3 317.5 L76.4 319.7 L76.5 314.9 L76.6 315.3 L76.7 312.6 L76.7 314.9 L76.8 313.3 L76.9 313.5 L77.0 311.7 L77.2 311.4 L77.3 308.4 L77.4 309.5 L77.6 307.3 L77.7 304.4 L77.8 306.3 L77.9 302.4 L78.1 300.4 L78.3 300.9 L78.4 303.9 L78.6 303.7 L78.8 308.2 L79.0 309.3 L79.1 307.0 L80.2 305.4 L80.5 308.4 L80.9 307.8 L81.2 310.6 L81.5 312.8 L81.9 311.4 L82.0 313.2 L82.1 316.3 L82.2 315.4 L82.3 316.1 L82.4 319.4 L82.5 320.1 L82.6 321.5 L82.7 321.7 L82.8 321.7 L82.9 323.8 L83.1 325.4 L83.2 325.7 L83.3 325.3 L83.4 326.6 L83.5 328.0 L83.6 330.4 L83.6 330.7 L83.7 331.7 L83.8 333.7 L83.9 332.3 L84.0 335.2 L84.1 335.2 L84.2 337.0 L84.3 339.0 L84.4 338.2 L84.5 341.4 L84.6 339.8 L84.7 342.3 L84.8 343.3 L84.8 343.5 L84.9 345.4 L85.0 346.1 L85.1 347.1 L85.2 348.8 L85.3 347.9 L85.4 349.9 L85.5 351.9 L85.6 351.3 L85.7 354.1 L85.8 353.5 L85.9 355.6 L86.0 355.4 L86.1 357.1 L86.2 358.0 L86.3 358.2 L86.4 360.6 L86.5 361.1 L86.7 362.6 L86.8 363.4 L87.0 364.4 L87.1 365.4 L87.2 366.1 L87.4 368.2 L87.5 367.8 L87.7 370.3 L87.8 371.3 L88.0 371.7 L88.1 373.2 L88.2 374.1 L88.5 375.1 L88.8 375.7 L89.0 376.8 L89.3 377.9 L89.6 378.9 L89.8 380.6 L90.1 381.2 L90.3 382.3 L91.0 383.1 L91.6 384.1 L92.3 384.8 L92.9 385.7" fill="#d8d8d8" stroke="#ababab" stroke-width="0.9" stroke-linejoin="round" stroke-linecap="round"/>
<path d="M76.0 385.7 L76.5 384.8 L77.0 384.1 L77.6 382.7 L78.1 382.7 L78.6 380.6 L79.1 380.6 L79.6 378.1 L80.0 378.9 L80.4 375.9 L80.8 376.7 L81.3 375.7 L81.7 374.8 L82.1 372.6 L82.5 373.2 L82.9 372.7 L83.4 368.0 L83.9 368.6 L84.4 369.5 L85.0 367.5 L85.5 365.1 L85.8 363.4 L86.2 365.5 L86.5 360.1 L86.9 362.5 L87.2 361.9 L87.6 357.2 L88.4 357.4 L89.3 356.6 L90.1 357.2 L90.5 355.1 L90.8 357.1 L91.2 356.3 L91.5 351.6 L91.9 354.1 L92.3 347.8 L92.6 346.9 L93.0 349.6 L93.3 349.4 L93.7 348.5 L94.0 348.7 L94.4 346.8 L94.5 341.5 L94.7 343.9 L94.9 344.2 L95.1 336.9 L95.2 338.9 L95.4 335.2 L95.8 334.0 L96.3 335.6 L96.7 336.1 L97.1 337.6 L97.6 331.7 L98.2 335.8 L98.7 340.8 L99.2 340.0 L99.4 337.1 L99.6 333.7 L99.8 335.8 L99.9 331.7 L100.1 333.8 L100.3 332.8 L100.5 329.5 L100.6 332.0 L100.8 327.5 L101.0 327.0 L101.2 329.3 L101.3 322.9 L101.8 321.2 L102.2 323.8 L102.6 321.4 L103.0 324.6 L103.4 319.6 L103.8 321.9 L104.2 320.0 L104.5 324.7 L104.7 322.4 L104.9 322.6 L105.1 324.6 L105.3 316.5 L105.4 324.7 L105.6 320.9 L105.8 320.9 L106.0 317.1 L106.3 316.5 L106.6 313.7 L106.9 312.5 L107.1 309.5 L107.4 309.3 L107.7 308.1 L108.1 307.5 L108.5 312.8 L109.0 310.6 L109.4 307.8 L109.8 301.8 L110.1 305.6 L110.5 309.8 L110.9 312.5 L111.2 308.4 L111.5 309.7 L111.8 311.8 L112.1 303.5 L112.4 303.7 L113.2 309.1 L114.0 305.2 L114.9 310.5 L115.7 307.7 L116.6 304.3 L117.4 310.0 L117.7 306.8 L118.0 315.5 L118.2 317.2 L118.5 314.9 L118.7 319.8 L119.0 313.8 L119.3 317.2 L119.5 315.6 L119.8 315.5 L120.1 324.1 L120.3 317.7 L120.6 327.2 L120.9 324.7 L121.1 327.0 L121.4 322.2 L121.7 331.0 L121.8 331.0 L122.0 326.0 L122.2 327.7 L122.4 328.5 L122.5 332.6 L122.7 330.2 L122.9 337.1 L123.1 335.7 L123.2 338.4 L123.4 336.0 L123.6 340.1 L123.8 339.7 L124.0 342.2 L124.1 341.5 L124.3 346.7 L124.5 346.7 L124.7 347.6 L124.8 345.3 L125.0 345.3 L125.2 346.2 L125.4 347.1 L125.5 353.5 L125.7 350.3 L125.9 355.0 L126.1 352.1 L126.2 355.5 L126.4 354.4 L126.6 355.8 L126.8 359.3 L126.9 359.6 L127.1 362.5 L127.3 359.8 L127.5 361.1 L127.7 361.1 L127.8 363.0 L128.0 367.6 L128.2 366.7 L128.4 367.4 L128.6 367.9 L128.9 370.7 L129.1 371.4 L129.3 370.4 L129.5 371.1 L129.7 372.6 L129.9 376.0 L130.1 376.8 L130.5 376.1 L130.8 377.3 L131.2 378.6 L131.5 380.6 L131.9 381.7 L132.2 382.0 L132.9 383.0 L133.5 383.9 L134.1 385.0 L134.8 385.7" fill="none" stroke="#878787" stroke-width="1.6" stroke-linejoin="round" stroke-linecap="round"/>
<path d="M73.8 385.7 L74.5 384.8 L75.1 384.1 L75.8 383.2 L76.4 381.9 L77.0 381.7 L77.4 380.4 L77.9 378.3 L78.3 379.0 L78.7 376.5 L79.1 375.5 L79.5 374.7 L79.8 374.1 L80.2 371.8 L80.5 372.2 L80.9 371.6 L81.3 369.7 L81.7 369.4 L82.1 367.9 L82.5 367.5 L82.9 364.4 L83.4 363.9 L83.8 363.2 L84.2 360.9 L84.6 362.8 L85.1 360.6 L85.5 357.6 L86.5 358.3 L87.6 356.6 L88.7 354.7 L89.7 353.5 L90.1 353.6 L90.4 350.9 L90.8 351.9 L91.1 350.6 L91.5 347.9 L91.8 350.2 L92.2 345.3 L92.5 344.8 L92.9 346.8 L93.2 342.9 L93.6 342.8 L93.9 342.4 L94.3 340.7 L94.7 340.0 L95.0 339.0 L95.4 337.8 L95.7 334.4 L96.1 337.5 L96.4 333.5 L96.7 331.1 L96.9 332.1 L97.2 333.4 L97.5 331.2 L98.1 331.3 L98.7 332.5 L99.2 332.1 L99.4 333.3 L99.6 330.7 L99.7 327.9 L99.9 327.2 L100.1 325.9 L100.2 328.4 L100.4 328.6 L100.6 326.8 L100.8 322.4 L100.9 320.8 L101.1 325.0 L101.2 320.1 L101.4 317.7 L101.5 319.3 L101.7 318.6 L101.8 317.0 L102.0 315.3 L102.1 313.2 L102.3 313.5 L102.4 312.2 L102.7 314.9 L102.9 314.2 L103.2 314.7 L103.5 320.1 L104.0 312.9 L104.6 316.4 L105.2 313.0 L105.7 316.8 L106.1 317.1 L106.6 317.2 L106.8 316.4 L106.9 312.7 L107.0 310.1 L107.1 314.3 L107.3 309.7 L107.4 307.5 L107.5 311.7 L107.6 309.0 L107.7 303.6 L107.9 306.3 L108.0 302.5 L108.1 306.9 L108.3 303.3 L108.4 309.6 L108.6 308.1 L108.8 305.1 L108.9 308.6 L109.1 313.9 L109.2 312.9 L109.4 310.0 L109.6 310.5 L109.7 308.7 L109.9 306.3 L110.0 309.0 L110.2 308.7 L110.4 304.0 L110.5 305.5 L110.7 306.9 L110.9 306.1 L111.2 301.4 L111.5 301.8 L111.8 309.4 L112.1 305.9 L112.4 305.7 L113.2 309.5 L114.0 304.3 L114.3 308.9 L114.6 309.7 L114.9 307.8 L115.2 310.1 L115.5 309.9 L115.7 314.7 L116.1 312.0 L116.5 313.0 L116.8 318.2 L117.2 315.2 L117.6 317.4 L117.9 319.0 L118.3 316.6 L118.6 319.6 L119.0 323.6 L119.3 326.2 L119.5 323.1 L119.8 325.0 L120.0 323.5 L120.2 327.2 L120.4 327.5 L120.6 329.4 L120.8 329.3 L121.0 330.5 L121.2 335.0 L121.4 335.2 L121.6 333.9 L121.8 333.4 L122.0 334.4 L122.2 335.7 L122.3 337.0 L122.5 340.4 L122.7 341.2 L122.9 340.3 L123.0 345.0 L123.2 345.1 L123.4 346.3 L123.6 348.2 L123.7 346.6 L123.9 350.3 L124.1 351.6 L124.3 352.4 L124.4 349.7 L124.6 354.2 L124.8 355.7 L125.0 353.2 L125.1 357.3 L125.3 358.1 L125.5 356.2 L125.7 359.8 L125.9 361.0 L126.0 362.0 L126.2 360.7 L126.4 364.8 L126.6 362.9 L126.7 364.1 L126.9 367.8 L127.1 367.4 L127.3 367.6 L127.4 369.3 L127.6 371.0 L127.8 371.1 L128.1 373.9 L128.3 374.3 L128.6 374.6 L128.9 375.7 L129.1 376.1 L129.4 379.1 L129.6 378.8 L129.9 380.8 L130.4 381.3 L131.0 382.3 L131.5 383.2 L132.0 384.4 L133.1 385.0 L134.1 385.7" fill="none" stroke="#000" stroke-width="1.75" stroke-linejoin="round" stroke-linecap="round"/>
</g>
<rect x="50.70" y="295.80" width="90.40" height="90.20" fill="none" stroke="#858585" stroke-width="0.9"/>
<clipPath id="cpC2"><rect x="143.80" y="295.80" width="90.80" height="90.20"/></clipPath>
<g clip-path="url(#cpC2)">
<path d="M157.5 385.7 L158.2 384.6 L158.9 383.4 L159.6 382.2 L160.0 381.3 L160.3 379.8 L160.7 379.4 L161.0 378.4 L161.4 376.4 L161.7 376.2 L162.0 374.9 L162.3 374.1 L162.5 373.5 L162.8 372.5 L163.1 370.5 L163.3 370.2 L163.6 369.1 L163.8 368.4 L164.1 365.6 L164.3 366.2 L164.5 363.8 L164.7 362.5 L164.9 362.4 L165.1 361.9 L165.3 361.1 L165.5 358.7 L165.8 358.7 L166.0 355.8 L166.5 357.0 L167.0 354.3 L167.6 353.9 L168.1 351.8 L168.4 350.5 L168.8 349.3 L169.1 349.8 L169.5 348.6 L169.8 348.3 L170.2 347.3 L170.5 345.1 L170.9 345.2 L171.3 342.3 L171.6 343.3 L172.0 340.3 L172.3 341.4 L172.6 338.6 L172.8 337.7 L173.1 336.9 L173.4 334.3 L173.6 333.3 L173.9 333.8 L174.2 333.3 L174.4 330.0 L174.7 330.2 L175.0 329.0 L175.2 329.4 L175.5 329.1 L175.7 324.7 L176.0 325.4 L176.3 322.6 L176.5 324.2 L176.8 323.8 L177.1 321.8 L177.3 320.2 L177.6 317.0 L177.9 316.1 L178.1 315.6 L178.4 313.9 L178.7 313.1 L179.5 315.5 L180.3 311.8 L180.5 313.2 L180.6 311.5 L180.8 310.6 L180.9 310.2 L181.1 308.1 L181.2 305.4 L181.4 305.0 L181.5 303.5 L181.7 300.7 L181.8 299.7 L182.0 303.3 L182.1 304.1 L182.2 307.3 L182.4 306.7 L182.5 308.7 L182.6 308.2 L182.8 309.7 L182.9 311.8 L183.3 309.4 L183.7 310.4 L184.2 313.3 L184.6 313.7 L184.7 315.4 L184.9 314.9 L185.0 316.4 L185.2 317.2 L185.3 320.3 L185.5 319.1 L185.6 320.1 L185.8 323.8 L185.9 323.8 L186.1 323.4 L186.2 327.9 L186.4 327.3 L186.5 330.0 L186.7 330.0 L186.8 330.6 L186.9 331.2 L187.1 331.2 L187.2 335.2 L187.4 334.5 L187.5 335.1 L187.7 335.7 L187.8 338.2 L188.0 340.5 L188.1 339.7 L188.2 342.0 L188.4 342.7 L188.5 343.2 L188.7 344.7 L188.8 346.0 L189.0 347.5 L189.1 346.2 L189.2 347.5 L189.4 348.8 L189.5 349.3 L189.6 350.9 L189.7 352.3 L189.9 352.7 L190.0 354.4 L190.1 354.3 L190.2 357.4 L190.4 357.9 L190.5 357.5 L190.6 358.8 L190.7 361.0 L190.9 360.7 L191.0 362.9 L191.1 362.5 L191.2 364.6 L191.3 365.7 L191.6 366.5 L191.8 368.0 L192.0 369.3 L192.2 370.5 L192.4 369.9 L192.6 371.7 L192.8 372.2 L193.0 374.2 L193.3 374.5 L193.5 375.5 L193.8 376.4 L194.2 377.5 L194.5 378.9 L194.9 379.9 L195.2 381.3 L195.6 382.5 L196.2 383.2 L196.9 384.0 L197.5 384.8 L198.1 385.7" fill="#d8d8d8" stroke="#ababab" stroke-width="0.9" stroke-linejoin="round" stroke-linecap="round"/>
<path d="M166.0 385.7 L166.7 384.6 L167.4 383.5 L168.1 382.6 L168.4 381.0 L168.8 379.7 L169.1 379.6 L169.5 377.8 L169.8 376.8 L170.2 376.6 L170.5 374.3 L170.9 374.7 L171.3 372.8 L171.6 370.8 L172.0 371.6 L172.3 369.8 L172.7 367.6 L173.0 368.3 L173.4 367.1 L173.7 366.0 L174.1 364.7 L174.4 364.6 L174.7 360.9 L175.0 362.5 L175.2 360.5 L175.5 358.3 L175.7 358.3 L176.0 356.4 L176.3 356.3 L176.5 355.5 L176.9 353.8 L177.2 351.4 L177.6 351.3 L178.0 349.9 L178.3 350.4 L178.7 350.0 L179.0 348.4 L179.4 346.5 L179.7 344.0 L180.1 345.0 L180.4 342.3 L180.8 344.1 L181.1 339.7 L181.5 341.9 L181.8 336.9 L182.2 339.1 L182.5 336.2 L182.9 336.1 L183.6 334.3 L184.3 332.8 L185.0 332.3 L186.1 335.1 L187.1 334.1 L187.8 335.2 L188.5 338.0 L189.2 336.5 L189.9 338.3 L190.6 340.1 L191.3 341.1 L191.8 338.6 L192.2 340.1 L192.6 337.8 L193.0 335.1 L193.5 335.1 L194.5 334.4 L195.6 336.2 L196.0 334.1 L196.4 333.6 L196.9 333.9 L197.3 333.5 L197.7 330.6 L198.2 330.3 L198.8 329.5 L199.3 328.8 L199.8 329.3 L200.9 324.8 L201.9 326.6 L202.3 324.4 L202.6 325.1 L203.0 323.0 L203.3 318.3 L203.7 317.5 L204.0 320.5 L205.1 316.7 L206.2 317.4 L206.4 313.4 L206.7 315.0 L207.0 313.0 L207.3 312.3 L207.6 308.5 L207.9 312.7 L208.3 311.4 L208.8 309.7 L209.3 308.0 L209.6 306.6 L209.9 307.5 L210.2 312.4 L210.5 310.4 L210.8 311.8 L211.0 315.7 L211.2 313.7 L211.4 318.4 L211.7 315.0 L211.9 319.7 L212.1 317.7 L212.3 318.0 L212.5 320.8 L212.7 323.7 L212.8 321.0 L213.0 324.6 L213.2 327.0 L213.4 323.9 L213.5 327.3 L213.7 327.5 L213.9 329.3 L214.0 332.0 L214.2 331.2 L214.3 331.7 L214.5 332.3 L214.7 336.1 L214.8 334.2 L215.0 337.8 L215.1 340.0 L215.3 339.7 L215.4 341.7 L215.6 339.5 L215.7 342.5 L215.9 343.6 L216.0 342.6 L216.2 345.0 L216.3 345.6 L216.5 346.0 L216.6 348.1 L216.8 348.1 L216.9 352.0 L217.1 350.5 L217.2 352.8 L217.4 354.4 L217.5 353.3 L217.7 357.3 L217.8 358.2 L218.0 358.2 L218.1 359.1 L218.3 361.1 L218.4 361.4 L218.6 361.5 L218.8 364.4 L219.0 363.6 L219.1 365.5 L219.3 366.6 L219.5 368.1 L219.7 368.2 L219.8 369.9 L220.0 370.0 L220.2 372.2 L220.4 372.1 L220.5 373.5 L220.8 375.0 L221.1 376.4 L221.5 377.8 L221.8 378.9 L222.1 379.1 L222.4 379.7 L222.7 381.3 L223.3 382.2 L223.9 383.2 L224.6 383.8 L225.2 384.9 L226.3 385.2 L227.3 385.7" fill="none" stroke="#808080" stroke-width="1.9" stroke-linejoin="round" stroke-linecap="round"/>
<path d="M172.3 385.7 L173.4 385.1 L174.4 384.5 L175.5 384.0 L176.3 383.2 L177.1 382.4 L177.9 381.9 L178.7 381.2 L179.7 380.3 L180.8 379.7 L181.8 379.6 L182.9 378.1 L183.9 377.7 L185.0 376.9 L186.1 377.0 L187.1 376.6 L188.2 377.8 L189.2 376.4 L190.3 377.2 L191.3 375.3 L192.4 376.8 L193.5 376.3 L194.5 376.7 L195.6 376.2 L196.6 375.0 L197.7 374.4 L198.8 374.5 L199.8 372.8 L200.9 371.9 L201.6 372.3 L202.3 370.9 L203.0 369.1 L203.4 368.6 L203.8 368.4 L204.3 365.9 L204.7 364.5 L205.1 364.1 L205.3 362.5 L205.6 361.9 L205.8 360.0 L206.0 360.8 L206.3 359.9 L206.5 357.6 L206.7 356.6 L207.0 355.2 L207.2 356.1 L207.4 354.9 L207.6 353.2 L207.7 350.6 L207.9 349.5 L208.1 350.4 L208.3 347.4 L208.5 348.0 L208.6 346.1 L208.8 343.7 L209.0 343.2 L209.2 344.7 L209.3 341.5 L209.5 341.7 L209.7 341.0 L209.9 338.6 L210.0 337.9 L210.2 338.3 L210.4 336.7 L210.6 334.8 L210.7 333.8 L210.9 332.4 L211.1 331.2 L211.3 331.2 L211.4 328.3 L211.6 330.0 L211.8 326.4 L212.0 325.0 L212.2 327.3 L212.3 321.9 L212.5 322.6 L212.7 322.3 L212.9 320.7 L213.0 321.5 L213.2 319.7 L213.4 317.8 L213.6 314.2 L213.8 318.2 L214.0 313.9 L214.2 312.8 L214.4 311.0 L214.6 309.8 L214.8 308.2 L215.0 307.3 L215.3 309.2 L215.6 306.1 L215.8 306.2 L216.1 306.0 L216.4 301.6 L216.7 304.5 L217.3 302.3 L217.9 306.8 L218.4 308.4 L218.6 306.9 L218.7 307.3 L218.9 309.4 L219.0 312.6 L219.2 314.0 L219.3 313.7 L219.5 313.0 L219.6 314.1 L219.8 316.7 L219.9 315.9 L220.0 319.2 L220.2 318.1 L220.3 320.3 L220.4 321.1 L220.5 322.1 L220.6 324.7 L220.8 326.0 L220.9 326.5 L221.0 326.9 L221.1 326.8 L221.3 327.9 L221.4 329.3 L221.5 331.9 L221.6 332.4 L221.7 330.7 L221.8 332.3 L221.9 332.6 L222.0 334.6 L222.1 337.7 L222.2 337.9 L222.3 336.5 L222.4 340.3 L222.5 340.8 L222.6 341.3 L222.7 340.7 L222.8 341.6 L222.9 342.8 L223.0 346.7 L223.1 346.0 L223.2 345.9 L223.3 349.4 L223.4 349.3 L223.5 349.8 L223.6 351.0 L223.7 351.4 L223.8 351.9 L223.9 355.2 L224.0 356.4 L224.1 355.9 L224.2 357.5 L224.3 359.3 L224.4 358.0 L224.5 361.6 L224.6 360.3 L224.7 362.0 L224.8 362.2 L224.9 363.6 L225.0 364.6 L225.1 365.9 L225.3 367.4 L225.4 368.9 L225.5 369.6 L225.6 371.2 L225.8 372.6 L225.9 372.3 L226.0 373.6 L226.1 375.1 L226.3 375.5 L226.5 376.3 L226.7 378.7 L227.0 379.4 L227.2 380.4 L227.5 381.7 L227.7 382.6 L228.4 383.7 L229.1 384.7 L229.9 385.7" fill="none" stroke="#000" stroke-width="1.75" stroke-linejoin="round" stroke-linecap="round"/>
</g>
<rect x="143.80" y="295.80" width="90.80" height="90.20" fill="none" stroke="#858585" stroke-width="0.9"/>
<clipPath id="cpC3"><rect x="50.70" y="388.70" width="90.40" height="90.60"/></clipPath>
<g clip-path="url(#cpC3)">
<path d="M66.4 479.0 L67.2 478.1 L68.0 477.1 L68.8 476.3 L69.6 475.1 L69.9 474.2 L70.2 473.1 L70.5 472.2 L70.8 472.0 L71.1 469.8 L71.3 469.3 L71.6 468.1 L71.9 467.3 L72.2 467.3 L72.5 465.3 L72.8 464.8 L73.0 463.4 L73.1 462.9 L73.3 461.4 L73.5 459.8 L73.7 459.2 L73.8 458.1 L74.0 457.8 L74.2 456.3 L74.4 454.5 L74.6 454.4 L74.7 452.5 L74.9 452.0 L75.0 450.3 L75.2 449.7 L75.3 449.6 L75.4 448.0 L75.5 447.6 L75.7 446.6 L75.8 445.2 L75.9 444.3 L76.0 442.7 L76.2 442.3 L76.3 441.7 L76.4 438.9 L76.5 440.2 L76.6 437.6 L76.8 435.9 L76.9 435.0 L77.0 434.5 L77.1 432.7 L77.3 432.7 L77.4 431.7 L77.5 431.5 L77.6 429.9 L77.8 430.5 L77.9 428.6 L78.0 426.4 L78.1 427.3 L78.3 425.7 L78.4 425.7 L78.5 423.9 L78.6 423.7 L78.8 420.0 L78.9 419.3 L79.0 420.8 L79.1 416.3 L79.2 418.6 L79.3 417.6 L79.5 413.5 L79.6 412.5 L79.7 414.5 L79.8 413.6 L79.9 412.2 L80.0 410.6 L80.1 409.7 L80.2 406.7 L80.3 404.3 L80.4 405.9 L80.5 406.0 L80.6 405.3 L80.7 402.3 L80.9 398.9 L81.0 398.6 L81.1 398.8 L81.3 396.7 L81.4 394.7 L81.5 394.4 L81.7 394.8 L81.9 394.1 L82.0 395.1 L82.2 396.4 L82.4 396.9 L82.6 401.4 L82.7 402.8 L82.9 398.7 L83.1 399.7 L83.2 399.8 L83.4 395.7 L83.6 395.1 L83.7 398.7 L83.7 399.2 L83.8 399.6 L83.9 401.5 L84.0 401.5 L84.1 401.4 L84.2 404.1 L84.3 405.6 L84.3 403.4 L84.4 405.7 L84.5 406.6 L84.6 410.2 L84.7 408.7 L84.8 411.4 L84.8 411.5 L84.9 412.3 L85.0 413.8 L85.1 416.3 L85.1 416.4 L85.2 416.4 L85.3 416.5 L85.4 418.2 L85.4 419.7 L85.5 421.4 L85.6 423.7 L85.7 422.2 L85.7 425.4 L85.8 426.3 L85.9 425.7 L86.0 426.0 L86.0 427.0 L86.1 430.3 L86.2 428.9 L86.2 431.4 L86.3 432.4 L86.4 431.9 L86.5 432.6 L86.5 435.4 L86.6 434.7 L86.7 437.2 L86.8 439.4 L86.9 438.9 L86.9 439.5 L87.0 440.0 L87.1 441.5 L87.2 442.6 L87.3 443.1 L87.3 445.6 L87.4 446.3 L87.5 447.6 L87.6 447.2 L87.7 448.5 L87.8 451.1 L87.8 450.0 L87.9 451.8 L88.0 453.8 L88.1 453.6 L88.2 454.6 L88.2 456.4 L88.4 456.7 L88.5 458.0 L88.6 459.1 L88.7 460.0 L88.9 461.7 L89.0 462.9 L89.1 464.0 L89.2 465.4 L89.3 465.0 L89.5 466.4 L89.6 468.5 L89.7 469.3 L90.0 470.3 L90.3 470.6 L90.6 471.6 L90.9 472.9 L91.2 474.4 L91.5 475.3 L91.8 476.2 L92.7 477.2 L93.7 478.1 L94.6 479.0" fill="#d8d8d8" stroke="#ababab" stroke-width="0.9" stroke-linejoin="round" stroke-linecap="round"/>
<path d="M83.8 479.0 L84.6 478.3 L85.3 477.6 L86.1 476.7 L86.8 476.4 L87.6 475.3 L88.0 474.3 L88.3 473.5 L88.7 473.1 L89.0 473.2 L89.4 470.7 L89.7 471.6 L90.0 470.6 L90.2 466.9 L90.5 465.1 L90.8 464.4 L91.0 466.0 L91.3 464.0 L91.6 464.3 L91.8 463.5 L92.0 461.1 L92.3 459.5 L92.5 456.2 L92.7 454.9 L92.9 457.7 L93.1 456.0 L93.3 455.4 L93.5 453.3 L93.7 452.9 L93.9 451.6 L94.2 452.1 L94.4 446.5 L94.6 447.7 L94.8 445.5 L95.0 447.6 L95.2 446.9 L95.4 441.9 L95.6 439.7 L95.8 439.6 L96.1 439.0 L96.3 441.1 L96.5 437.5 L96.8 438.9 L97.0 434.6 L97.2 435.2 L97.5 431.6 L97.7 434.0 L97.9 431.9 L98.2 433.6 L98.4 433.3 L98.6 428.8 L98.9 424.1 L99.1 430.2 L99.4 429.2 L99.6 424.2 L99.8 423.2 L100.1 426.1 L100.3 419.1 L100.5 418.0 L100.8 420.9 L101.0 419.7 L101.2 418.8 L101.5 419.1 L101.7 415.0 L101.9 413.1 L102.2 410.1 L102.4 408.9 L102.8 409.4 L103.1 408.9 L103.4 411.0 L103.8 408.8 L104.1 406.6 L104.5 404.1 L104.8 405.7 L105.2 402.0 L105.7 407.5 L106.2 406.9 L106.7 408.5 L107.3 406.2 L107.5 406.6 L107.8 407.8 L108.0 409.3 L108.3 403.6 L108.5 400.2 L108.8 403.3 L109.0 398.0 L109.2 401.5 L109.5 399.3 L109.7 406.0 L110.0 403.8 L110.2 406.4 L110.4 409.5 L110.7 406.8 L110.9 399.3 L111.1 402.6 L111.3 396.8 L111.5 404.8 L111.7 400.1 L111.9 403.0 L112.4 397.4 L112.8 404.8 L113.2 398.2 L113.6 407.3 L114.5 403.1 L115.3 400.8 L115.9 410.6 L116.6 410.6 L117.2 404.7 L117.9 409.6 L118.5 409.4 L118.7 407.1 L119.0 411.0 L119.3 417.5 L119.5 412.7 L119.8 417.4 L120.1 418.4 L120.3 419.5 L120.6 419.1 L120.9 422.8 L121.2 418.8 L121.5 421.1 L121.8 421.8 L122.1 419.9 L122.4 424.3 L122.7 427.7 L123.1 427.2 L123.6 425.0 L124.0 426.6 L124.4 429.6 L124.8 427.7 L125.0 429.5 L125.2 434.7 L125.4 431.0 L125.6 432.2 L125.8 433.6 L126.0 437.2 L126.2 434.8 L126.4 440.5 L126.6 440.7 L126.8 443.1 L126.9 444.2 L127.7 444.9 L128.4 444.6 L129.1 444.4 L129.3 447.2 L129.4 445.6 L129.6 447.2 L129.8 450.9 L130.0 451.4 L130.2 450.0 L130.4 452.7 L130.6 454.6 L130.8 453.7 L131.0 456.9 L131.2 455.5 L131.5 456.7 L131.9 458.9 L132.2 459.4 L132.6 462.4 L132.9 462.1 L133.3 462.7 L133.6 465.9 L133.8 467.0 L134.1 467.8 L134.4 466.4 L134.6 468.0 L134.9 468.5 L135.1 471.8 L135.4 471.9 L136.0 472.1 L136.5 474.8 L137.1 474.3 L137.6 475.4 L138.2 477.2 L139.0 477.6 L139.9 478.4 L140.7 479.0" fill="none" stroke="#878787" stroke-width="1.6" stroke-linejoin="round" stroke-linecap="round"/>
<path d="M83.4 479.0 L84.2 478.4 L85.1 477.8 L85.9 477.3 L86.8 476.9 L87.6 476.0 L88.0 474.8 L88.4 473.8 L88.9 473.5 L89.3 471.4 L89.7 471.5 L90.0 470.3 L90.2 468.0 L90.5 467.9 L90.8 466.6 L91.0 465.4 L91.3 466.0 L91.6 462.4 L91.8 461.1 L92.0 462.8 L92.3 460.1 L92.5 458.4 L92.7 457.7 L92.9 456.8 L93.1 457.7 L93.3 454.1 L93.5 453.0 L93.7 453.3 L93.9 452.1 L94.2 452.6 L94.4 451.1 L94.6 448.2 L94.8 446.5 L95.0 448.0 L95.2 447.6 L95.4 442.5 L95.6 444.5 L95.8 444.0 L96.1 442.0 L96.3 439.0 L96.5 440.6 L96.7 439.3 L96.9 435.6 L97.1 436.8 L97.3 433.6 L97.5 431.6 L97.8 432.0 L98.0 431.0 L98.2 430.2 L98.4 430.5 L98.7 430.5 L99.0 430.2 L99.2 429.2 L99.5 428.3 L99.8 426.1 L100.0 422.2 L100.3 420.4 L100.6 422.0 L100.8 420.5 L101.1 420.2 L101.3 415.5 L101.6 415.1 L101.9 418.7 L102.1 415.6 L102.4 415.1 L102.7 410.1 L102.9 411.0 L103.2 413.5 L103.5 410.7 L103.7 412.0 L104.0 405.3 L104.3 406.1 L104.5 407.6 L105.1 403.9 L105.6 405.4 L106.1 402.7 L106.6 398.2 L107.7 397.6 L108.8 403.8 L109.5 396.1 L110.2 395.6 L110.9 395.6 L111.2 399.7 L111.6 401.8 L112.0 399.9 L112.4 401.1 L113.2 402.3 L114.0 397.3 L114.5 399.1 L114.9 402.0 L115.3 403.2 L115.7 399.8 L116.1 401.5 L116.5 402.7 L116.8 408.1 L117.2 408.9 L117.5 411.9 L117.7 411.5 L118.0 409.0 L118.3 413.5 L118.5 416.1 L118.8 412.8 L119.1 411.7 L119.3 415.2 L119.6 415.6 L119.9 416.0 L120.1 416.3 L120.4 417.9 L120.7 423.5 L120.9 419.6 L121.2 424.0 L121.4 422.7 L121.7 423.7 L122.0 428.4 L122.2 426.5 L122.5 426.9 L122.8 429.5 L123.0 431.8 L123.3 432.0 L123.6 434.8 L123.8 433.4 L124.1 435.1 L124.4 437.1 L124.6 436.9 L124.9 439.2 L125.1 439.1 L125.4 438.6 L125.7 439.6 L126.0 443.7 L126.4 444.5 L126.7 446.4 L127.1 446.4 L127.4 447.0 L127.8 446.3 L128.1 450.2 L128.3 448.3 L128.6 450.6 L128.9 450.6 L129.1 452.6 L129.4 453.4 L129.6 454.8 L129.9 456.9 L130.2 457.4 L130.4 457.4 L130.7 460.2 L131.0 461.1 L131.2 462.4 L131.5 461.2 L131.8 463.9 L132.0 465.7 L132.4 465.0 L132.7 466.0 L133.1 468.6 L133.4 468.5 L133.8 469.7 L134.1 471.7 L134.6 471.8 L135.0 472.6 L135.4 473.8 L135.8 475.1 L136.3 476.4 L137.0 476.9 L137.8 477.7 L138.6 478.3 L139.4 479.0" fill="none" stroke="#000" stroke-width="1.75" stroke-linejoin="round" stroke-linecap="round"/>
</g>
<rect x="50.70" y="388.70" width="90.40" height="90.60" fill="none" stroke="#858585" stroke-width="0.9"/>
<clipPath id="cpC4"><rect x="143.80" y="388.70" width="90.80" height="90.60"/></clipPath>
<g clip-path="url(#cpC4)">
<path d="M159.6 479.0 L160.0 478.0 L160.3 477.0 L160.7 476.0 L161.0 475.3 L161.4 474.1 L161.7 473.3 L162.0 471.6 L162.3 471.0 L162.5 470.4 L162.8 468.9 L163.1 468.5 L163.3 467.3 L163.6 465.5 L163.8 463.8 L164.1 464.0 L164.3 461.9 L164.5 460.6 L164.7 460.8 L164.9 460.0 L165.1 458.9 L165.3 458.1 L165.5 455.6 L165.8 454.2 L166.0 453.2 L166.2 454.0 L166.4 451.1 L166.6 450.1 L166.8 448.7 L167.0 447.7 L167.2 446.6 L167.4 446.3 L167.7 444.7 L167.9 444.0 L168.1 444.6 L168.3 441.5 L168.5 442.2 L168.7 441.0 L168.9 439.4 L169.1 438.4 L169.3 437.9 L169.6 436.3 L169.8 434.2 L170.0 433.4 L170.2 432.1 L170.4 431.5 L170.6 432.3 L170.8 429.5 L171.0 427.2 L171.3 427.5 L171.5 427.6 L171.7 425.3 L171.9 425.1 L172.1 421.9 L172.3 420.7 L172.5 421.8 L172.7 418.5 L172.9 418.4 L173.2 417.6 L173.4 415.8 L173.6 414.2 L173.8 413.0 L174.0 415.6 L174.2 413.6 L174.4 413.6 L174.6 410.6 L174.8 411.5 L175.1 410.1 L175.3 408.0 L175.5 406.6 L175.7 405.4 L175.9 403.1 L176.1 402.7 L176.3 403.2 L176.5 399.8 L176.8 401.7 L177.1 399.1 L177.4 398.5 L177.7 398.5 L178.0 396.6 L178.2 393.0 L178.4 394.7 L178.7 394.5 L178.9 395.8 L179.1 401.1 L179.3 400.5 L179.5 403.3 L179.7 401.3 L179.9 398.0 L180.1 400.0 L180.3 398.7 L180.6 395.3 L180.8 392.3 L181.0 394.6 L181.2 395.0 L181.4 397.1 L181.6 396.9 L181.8 401.0 L182.0 403.3 L182.4 400.9 L182.7 404.5 L183.0 404.7 L183.3 405.3 L183.6 408.2 L183.9 407.0 L184.1 409.9 L184.2 407.7 L184.4 412.6 L184.5 410.4 L184.7 410.8 L184.8 415.4 L185.0 415.8 L185.1 416.6 L185.3 418.0 L185.4 417.6 L185.5 417.7 L185.7 419.5 L185.8 422.9 L185.9 424.0 L186.0 422.4 L186.2 424.2 L186.3 425.3 L186.4 427.9 L186.5 425.9 L186.6 429.7 L186.8 428.9 L186.9 430.9 L187.0 430.7 L187.1 431.6 L187.2 435.1 L187.4 434.9 L187.5 437.3 L187.6 437.9 L187.7 438.6 L187.9 437.7 L188.0 440.1 L188.1 442.2 L188.2 441.9 L188.4 441.7 L188.5 443.0 L188.6 446.1 L188.7 447.0 L188.9 446.2 L189.0 447.4 L189.1 449.3 L189.2 449.8 L189.4 450.2 L189.5 453.0 L189.7 453.2 L189.8 453.8 L190.0 454.1 L190.1 456.2 L190.3 457.7 L190.4 457.7 L190.6 458.6 L190.7 460.8 L190.9 462.2 L191.0 462.3 L191.2 463.5 L191.3 464.8 L191.6 465.7 L191.9 466.2 L192.1 467.5 L192.4 468.4 L192.7 469.5 L192.9 470.4 L193.2 471.9 L193.5 472.8 L194.0 474.3 L194.5 475.0 L195.1 476.2 L195.6 477.1 L196.1 478.0 L196.6 479.0" fill="#d8d8d8" stroke="#ababab" stroke-width="0.9" stroke-linejoin="round" stroke-linecap="round"/>
<path d="M170.2 479.0 L171.0 478.5 L171.9 477.9 L172.7 477.4 L173.6 476.7 L174.4 476.3 L175.1 475.7 L175.7 474.9 L176.3 473.4 L177.0 473.1 L177.6 472.2 L178.4 471.2 L179.2 471.3 L180.0 469.7 L180.8 468.7 L181.4 468.9 L182.0 467.4 L182.7 465.9 L183.3 465.1 L183.9 464.6 L184.5 462.7 L185.0 463.1 L185.5 462.5 L186.1 460.9 L186.6 461.1 L187.1 460.4 L187.8 458.4 L188.5 457.7 L189.2 455.1 L189.9 456.0 L190.6 459.5 L191.3 458.8 L191.9 457.5 L192.4 458.3 L192.9 456.8 L193.5 454.1 L194.3 453.8 L195.1 452.8 L195.8 452.1 L196.6 450.5 L197.3 451.2 L197.9 449.6 L198.5 449.1 L199.2 447.5 L199.8 446.4 L200.4 445.3 L201.1 447.2 L201.7 446.0 L202.4 444.5 L203.0 442.2 L203.2 441.2 L203.5 440.0 L203.8 439.6 L204.0 437.6 L204.3 437.3 L204.6 436.0 L204.8 434.8 L205.1 435.6 L205.2 433.8 L205.3 432.8 L205.5 431.2 L205.6 430.9 L205.7 431.0 L205.8 427.8 L206.0 425.7 L206.1 426.5 L206.2 424.9 L206.3 425.7 L206.5 421.5 L206.6 424.1 L206.7 418.9 L206.9 420.4 L207.0 418.9 L207.1 417.1 L207.3 419.0 L207.4 417.0 L207.6 413.1 L207.7 413.8 L207.9 413.4 L208.0 409.2 L208.1 408.4 L208.3 410.2 L208.5 409.9 L208.7 407.3 L208.9 406.0 L209.1 405.4 L209.3 402.9 L209.5 405.5 L209.8 405.0 L210.0 401.0 L210.3 399.3 L210.7 402.7 L211.1 406.1 L211.4 404.4 L211.7 402.0 L212.0 401.4 L212.3 403.5 L212.6 401.9 L212.9 398.8 L213.2 401.9 L213.4 403.8 L213.7 406.1 L213.9 406.3 L214.1 405.0 L214.4 408.2 L214.6 409.9 L214.8 410.6 L215.0 411.0 L215.1 411.2 L215.3 411.8 L215.5 414.7 L215.6 414.5 L215.8 416.1 L216.0 414.6 L216.1 414.9 L216.3 416.9 L216.5 419.6 L216.7 420.6 L216.8 419.8 L217.0 420.8 L217.2 425.5 L217.3 422.4 L217.5 427.4 L217.7 427.8 L217.8 427.9 L218.0 430.8 L218.3 430.5 L218.6 428.7 L219.0 433.7 L219.3 432.5 L219.6 435.6 L219.9 436.3 L220.1 434.6 L220.3 435.3 L220.5 436.3 L220.6 440.3 L220.8 441.4 L221.0 440.4 L221.2 441.0 L221.4 443.0 L221.5 445.5 L221.7 446.4 L221.8 447.8 L222.0 449.2 L222.1 449.6 L222.2 450.9 L222.4 449.4 L222.5 450.5 L222.7 454.0 L222.8 454.4 L222.9 454.6 L223.1 455.2 L223.2 456.8 L223.4 457.9 L223.5 459.3 L223.6 460.3 L223.8 460.7 L223.9 461.5 L224.1 462.9 L224.2 463.8 L224.4 464.8 L224.5 466.6 L224.6 467.1 L224.8 469.4 L225.0 470.0 L225.3 470.9 L225.5 472.2 L225.7 472.8 L226.0 473.7 L226.2 474.9 L226.5 476.2 L227.3 477.1 L228.2 478.1 L229.0 479.0" fill="none" stroke="#808080" stroke-width="1.5" stroke-linejoin="round" stroke-linecap="round"/>
<path d="M175.5 479.0 L176.5 478.9 L177.6 478.8 L178.7 478.6 L179.7 478.5 L180.8 478.4 L181.8 478.2 L182.9 478.1 L183.9 477.9 L185.0 477.7 L186.1 477.3 L187.1 477.0 L188.2 476.5 L189.2 476.2 L190.0 475.5 L190.8 474.9 L191.6 474.1 L192.4 472.6 L192.9 471.6 L193.3 470.9 L193.8 470.4 L194.2 470.0 L194.7 469.1 L195.1 468.4 L195.6 466.9 L196.0 466.1 L196.5 464.5 L196.9 463.6 L197.4 462.5 L197.8 462.3 L198.3 461.5 L198.8 460.6 L199.1 459.2 L199.5 458.3 L199.8 457.0 L200.2 457.4 L200.5 455.9 L200.9 455.4 L201.2 454.6 L201.6 452.3 L201.9 450.9 L202.3 450.3 L202.6 451.0 L203.0 449.6 L203.3 447.4 L203.7 447.5 L204.0 445.1 L204.3 445.7 L204.6 442.2 L204.9 443.2 L205.2 442.9 L205.5 440.0 L205.7 439.1 L206.0 436.9 L206.2 436.3 L206.5 435.1 L206.7 434.3 L207.0 432.3 L207.2 432.1 L207.6 430.3 L207.9 430.9 L208.3 429.3 L208.6 427.6 L209.0 429.4 L209.3 425.7 L209.8 425.6 L210.2 426.1 L210.6 424.5 L211.0 424.4 L211.4 421.7 L212.2 421.9 L212.9 417.1 L213.6 419.2 L213.9 418.4 L214.3 419.4 L214.7 422.5 L215.0 423.4 L215.3 422.7 L215.5 423.8 L215.7 424.6 L215.9 428.3 L216.1 428.1 L216.3 427.7 L216.5 429.8 L216.7 429.0 L217.2 428.8 L217.6 428.7 L218.0 429.5 L218.4 428.0 L218.8 425.7 L219.2 425.6 L219.5 422.3 L219.9 423.2 L220.6 423.5 L221.4 418.6 L221.5 421.1 L221.7 420.3 L221.9 416.4 L222.0 417.5 L222.2 417.3 L222.3 412.1 L222.5 412.6 L222.7 412.2 L222.8 412.2 L223.0 408.4 L223.1 409.9 L223.3 408.6 L223.4 408.3 L223.5 406.6 L223.7 406.3 L223.8 403.8 L224.0 402.5 L224.1 400.9 L224.5 399.6 L224.9 398.8 L225.3 397.9 L225.6 396.3 L226.9 395.9 L227.0 398.5 L227.1 402.6 L227.2 400.1 L227.3 404.9 L227.5 405.1 L227.6 404.1 L227.7 403.9 L227.8 408.4 L227.9 409.9 L228.0 407.6 L228.1 410.5 L228.3 412.0 L228.4 412.3 L228.4 410.9 L228.5 412.5 L228.6 415.8 L228.6 416.4 L228.7 417.6 L228.8 416.8 L228.8 420.6 L228.9 421.1 L229.0 420.8 L229.0 423.4 L229.1 422.0 L229.1 424.0 L229.2 425.0 L229.3 427.9 L229.3 428.7 L229.4 427.3 L229.5 430.1 L229.5 429.1 L229.6 432.5 L229.7 433.5 L229.7 433.7 L229.8 432.3 L229.9 434.3 L229.9 434.8 L230.0 437.0 L230.0 436.4 L230.1 437.5 L230.2 438.7 L230.2 442.3 L230.3 442.4 L230.3 444.2 L230.4 445.5 L230.5 445.3 L230.5 447.1 L230.6 446.9 L230.6 448.4 L230.7 448.1 L230.8 450.0 L230.8 450.0 L230.9 452.0 L230.9 454.4 L231.0 455.4 L231.1 455.8 L231.1 455.0 L231.2 458.4 L231.3 458.3 L231.4 459.7 L231.5 460.2 L231.7 462.0 L231.8 462.1 L231.9 462.8 L232.0 464.5 L232.1 465.1 L232.2 466.2 L232.3 467.2 L232.4 469.2 L232.5 470.2 L232.6 470.5 L232.8 472.3 L233.1 472.6 L233.3 474.5 L233.6 475.0 L233.8 476.3 L234.1 477.3" fill="none" stroke="#000" stroke-width="1.75" stroke-linejoin="round" stroke-linecap="round"/>
</g>
<rect x="143.80" y="388.70" width="90.80" height="90.60" fill="none" stroke="#858585" stroke-width="0.9"/>
<clipPath id="cpE1"><rect x="49.50" y="546.30" width="91.10" height="91.00"/></clipPath>
<g clip-path="url(#cpE1)">
<path d="M57.2 636.9 L57.6 635.6 L57.9 634.4 L58.3 633.1 L58.3 632.1 L58.4 631.0 L58.4 630.2 L58.5 629.1 L58.5 628.1 L58.6 627.2 L58.7 626.2 L58.7 625.0 L58.8 624.0 L58.8 623.1 L58.9 622.1 L58.9 621.2 L59.0 620.0 L59.0 619.2 L59.1 617.9 L59.2 617.1 L59.2 616.0 L59.3 614.8 L59.3 614.1 L59.4 612.8 L59.4 611.9 L59.4 610.9 L59.5 609.8 L59.5 608.8 L59.5 607.7 L59.6 607.1 L59.6 605.6 L59.6 604.6 L59.7 603.6 L59.7 603.0 L59.7 601.8 L59.8 600.9 L59.8 600.0 L59.8 598.7 L59.9 597.6 L59.9 596.6 L59.9 595.5 L60.0 594.7 L60.0 593.9 L60.0 592.5 L60.1 591.7 L60.1 590.8 L60.1 589.7 L60.2 588.6 L60.2 587.5 L60.2 586.1 L60.3 585.3 L60.3 584.6 L60.4 583.3 L60.4 582.5 L60.4 581.1 L60.5 580.4 L60.6 579.1 L60.6 578.5 L60.7 577.6 L60.7 575.9 L60.8 575.4 L60.8 573.9 L60.9 573.7 L60.9 572.0 L61.0 571.0 L61.1 570.6 L61.1 569.4 L61.2 567.8 L61.2 567.2 L61.3 566.6 L61.3 565.0 L61.4 564.5 L61.4 563.1 L61.6 562.2 L61.7 561.1 L61.8 559.6 L62.0 558.9 L62.1 558.0 L62.2 559.2 L62.3 560.1 L62.4 560.8 L62.6 562.3 L62.7 563.1 L62.8 564.7 L62.9 565.0 L63.0 566.7 L63.1 567.1 L63.2 568.6 L63.2 569.5 L63.3 570.6 L63.4 571.9 L63.5 573.1 L63.6 573.4 L63.6 575.2 L63.7 576.1 L63.8 576.7 L63.9 578.2 L64.0 579.4 L64.0 580.1 L64.1 581.6 L64.2 582.0 L64.3 583.3 L64.3 584.1 L64.4 585.6 L64.5 586.2 L64.6 587.1 L64.7 588.7 L64.7 589.3 L64.8 590.3 L64.9 591.5 L65.0 592.1 L65.1 593.5 L65.1 594.5 L65.2 595.3 L65.3 596.5 L65.4 597.6 L65.4 598.1 L65.5 599.6 L65.6 600.4 L65.7 601.5 L65.8 602.5 L65.9 603.7 L66.0 604.7 L66.1 605.4 L66.2 606.5 L66.3 607.6 L66.4 608.6 L66.5 609.7 L66.6 610.9 L66.7 611.9 L66.8 612.9 L66.9 614.2 L67.0 614.9 L67.2 616.1 L67.3 617.2 L67.5 618.3 L67.7 619.5 L67.8 620.4 L68.0 621.3 L68.2 622.5 L68.3 623.5 L68.5 624.6 L68.7 625.7 L68.8 626.6 L69.2 627.9 L69.6 628.8 L69.9 629.9 L70.3 631.0 L70.6 632.0 L71.0 633.1 L71.7 634.2 L72.4 635.2 L73.1 636.3 L74.1 636.5 L75.2 636.7 L76.3 636.9" fill="#dcdcdc" stroke="#b4b4b4" stroke-width="0.8" stroke-linejoin="round" stroke-linecap="round"/>
<path d="M59.3 636.9 L60.4 636.3 L61.4 635.8 L62.5 635.3 L63.1 634.5 L63.8 633.6 L64.4 632.9 L65.0 631.5 L65.7 631.1 L66.4 629.7 L67.1 629.1 L67.8 627.7 L68.3 626.8 L68.8 625.7 L69.4 624.7 L69.9 624.0 L70.3 623.2 L70.8 621.2 L71.2 620.9 L71.6 619.9 L72.0 618.1 L72.4 616.6 L72.7 616.2 L73.1 615.6 L73.4 614.1 L73.8 612.4 L74.1 612.3 L74.5 610.5 L74.8 610.6 L75.2 608.1 L75.5 607.9 L75.9 606.4 L76.3 606.6 L76.7 603.7 L77.1 604.3 L77.5 602.2 L77.9 601.1 L78.4 599.6 L78.7 599.2 L79.0 599.2 L79.3 598.4 L79.6 597.2 L79.9 595.3 L80.2 593.3 L80.5 592.9 L80.7 592.2 L81.0 590.2 L81.3 591.1 L81.5 587.5 L81.8 586.8 L82.1 585.7 L82.3 584.5 L82.6 583.1 L82.9 582.6 L83.1 581.9 L83.4 582.6 L83.7 580.3 L83.9 579.5 L84.2 577.6 L84.4 575.9 L84.7 576.2 L84.9 575.7 L85.1 572.4 L85.3 573.3 L85.6 570.7 L85.8 571.4 L86.0 569.1 L86.2 567.3 L86.4 566.2 L86.6 567.5 L86.8 565.5 L87.0 562.7 L87.2 564.8 L87.4 561.3 L87.6 560.3 L87.8 558.1 L87.9 558.2 L88.1 558.2 L88.3 558.6 L88.5 555.0 L88.7 554.8 L88.9 552.0 L89.2 553.5 L89.3 552.9 L89.4 554.3 L89.5 554.9 L89.6 558.2 L89.8 560.0 L89.9 557.6 L90.0 559.9 L90.2 557.4 L90.3 559.0 L90.5 558.6 L90.6 554.3 L90.8 555.6 L90.9 552.9 L91.1 552.5 L91.2 554.1 L91.3 554.3 L91.5 556.5 L91.6 556.2 L91.7 558.0 L91.9 558.5 L92.0 559.8 L92.1 559.7 L92.3 559.5 L92.5 557.5 L92.6 558.5 L92.8 556.6 L93.0 555.5 L93.2 556.5 L93.4 554.4 L93.5 557.0 L93.7 558.4 L93.9 559.6 L94.1 561.1 L94.2 560.6 L95.1 563.9 L95.9 563.9 L96.0 562.7 L96.1 565.8 L96.2 566.5 L96.3 569.1 L96.3 569.4 L96.4 570.2 L96.5 571.3 L96.6 572.5 L96.7 572.6 L96.8 573.8 L96.9 572.9 L97.0 570.0 L97.1 570.7 L97.2 569.3 L97.3 568.3 L97.4 567.7 L97.5 567.0 L97.6 565.0 L97.7 566.7 L97.8 566.5 L97.9 570.3 L98.0 570.2 L98.0 571.4 L98.1 572.6 L98.2 571.1 L98.3 572.7 L98.4 574.5 L98.5 575.8 L98.6 576.7 L98.7 578.1 L98.9 579.6 L99.0 581.0 L99.2 581.9 L99.3 582.0 L99.5 584.4 L99.6 585.4 L99.7 586.9 L99.9 585.1 L100.0 587.8 L100.2 587.7 L100.3 590.7 L100.5 592.0 L100.7 592.3 L100.9 592.4 L101.1 594.9 L101.3 595.0 L101.5 596.6 L101.6 596.3 L101.8 597.2 L102.0 600.0 L102.2 601.1 L102.4 601.1 L102.6 601.5 L102.7 603.0 L102.9 605.4 L103.1 605.0 L103.3 607.2 L103.4 607.3 L103.5 609.7 L103.7 609.5 L103.8 611.7 L104.0 611.9 L104.1 612.1 L104.2 613.9 L104.4 615.0 L104.5 615.6 L104.7 616.5 L104.8 618.4 L105.0 619.7 L105.2 620.7 L105.4 621.2 L105.7 622.0 L105.9 623.5 L106.1 624.9 L106.3 625.3 L106.5 627.2 L106.9 628.4 L107.2 628.7 L107.6 629.6 L107.9 631.0 L108.3 631.8 L108.6 633.3 L109.3 633.9 L109.9 634.6 L110.5 635.5 L111.2 636.3 L112.2 636.5 L113.3 636.7 L114.3 636.9 L115.4 637.1" fill="none" stroke="#000" stroke-width="1.6" stroke-linejoin="round" stroke-linecap="round"/>
</g>
<rect x="49.50" y="546.30" width="91.10" height="91.00" fill="none" stroke="#5c5c5c" stroke-width="1.0"/>
<clipPath id="cpE2"><rect x="144.00" y="546.30" width="90.80" height="91.00"/></clipPath>
<g clip-path="url(#cpE2)">
<path d="M152.2 636.9 L152.4 635.9 L152.6 634.9 L152.7 633.9 L152.9 633.0 L153.1 632.0 L153.3 631.0 L153.3 630.0 L153.4 628.9 L153.4 628.0 L153.5 626.8 L153.5 626.0 L153.6 625.0 L153.6 623.8 L153.7 622.9 L153.7 622.0 L153.8 620.9 L153.8 620.1 L153.9 619.1 L153.9 618.0 L154.0 616.7 L154.0 615.7 L154.1 614.8 L154.1 613.8 L154.2 612.9 L154.2 612.0 L154.3 610.8 L154.3 609.9 L154.4 608.8 L154.4 607.5 L154.4 606.8 L154.5 605.6 L154.5 604.7 L154.6 603.4 L154.6 602.8 L154.6 601.9 L154.7 600.4 L154.7 599.7 L154.8 598.3 L154.8 597.5 L154.8 596.4 L154.9 595.8 L154.9 594.7 L155.0 593.8 L155.0 592.3 L155.0 591.6 L155.1 590.6 L155.1 589.4 L155.2 588.7 L155.2 587.5 L155.2 586.2 L155.3 585.5 L155.3 584.3 L155.3 583.1 L155.4 582.4 L155.4 581.0 L155.5 580.3 L155.6 579.3 L155.6 577.9 L155.7 577.4 L155.7 576.0 L155.8 575.4 L155.8 574.2 L155.9 572.9 L155.9 572.7 L156.0 570.9 L156.1 570.0 L156.1 569.3 L156.2 568.0 L156.2 567.3 L156.3 566.3 L156.3 565.3 L156.4 564.3 L156.4 563.1 L156.6 561.9 L156.8 561.3 L157.0 560.0 L157.1 559.1 L157.3 558.4 L157.4 558.5 L157.5 559.9 L157.7 561.2 L157.8 561.8 L157.9 563.5 L158.0 564.2 L158.1 565.2 L158.2 566.2 L158.3 567.9 L158.3 568.1 L158.4 569.9 L158.5 570.9 L158.5 572.1 L158.6 573.0 L158.7 573.7 L158.7 574.9 L158.8 576.3 L158.9 576.6 L158.9 578.4 L159.0 579.3 L159.1 580.0 L159.1 581.6 L159.2 582.2 L159.3 583.0 L159.4 584.2 L159.5 585.5 L159.6 586.2 L159.7 587.7 L159.7 588.6 L159.8 589.6 L159.9 590.9 L160.0 591.9 L160.1 593.2 L160.2 594.2 L160.3 595.2 L160.4 596.3 L160.5 597.3 L160.6 598.2 L160.7 599.0 L160.8 600.3 L161.0 601.4 L161.1 602.7 L161.3 603.6 L161.4 604.6 L161.6 605.4 L161.7 606.7 L161.9 607.5 L162.0 608.6 L162.2 609.6 L162.4 611.0 L162.6 612.1 L162.8 613.0 L163.0 613.9 L163.2 615.2 L163.4 616.0 L163.6 617.3 L163.8 618.3 L164.2 619.5 L164.6 620.3 L164.9 621.3 L165.3 622.4 L165.6 623.4 L166.0 624.8 L166.6 625.5 L167.2 626.2 L167.9 627.2 L168.5 627.9 L169.1 629.0 L169.9 629.6 L170.7 630.3 L171.5 631.3 L172.3 632.0 L173.1 632.7 L173.9 633.4 L174.7 634.1 L175.5 634.8 L176.5 635.3 L177.6 635.8 L178.7 636.4 L179.7 636.9" fill="#dcdcdc" stroke="#b4b4b4" stroke-width="0.8" stroke-linejoin="round" stroke-linecap="round"/>
<path d="M155.4 636.9 L156.4 636.2 L157.5 635.5 L158.6 634.8 L159.4 633.9 L160.1 633.5 L160.9 632.6 L161.7 632.1 L162.5 631.0 L163.3 630.3 L164.1 629.4 L164.9 628.6 L165.7 628.3 L166.5 627.2 L167.3 627.1 L168.1 625.8 L169.1 624.2 L170.2 623.7 L170.9 622.5 L171.6 620.9 L172.3 620.4 L173.4 620.2 L174.4 621.3 L175.0 620.4 L175.5 619.6 L176.0 619.0 L176.5 617.4 L177.6 615.3 L178.7 615.1 L179.2 613.6 L179.7 613.4 L180.2 612.7 L180.8 610.1 L181.3 610.3 L181.8 608.3 L182.4 607.0 L182.9 606.5 L183.2 605.4 L183.6 604.1 L183.9 602.9 L184.2 602.3 L184.6 601.8 L184.8 599.5 L185.0 598.9 L185.1 597.5 L185.3 597.7 L185.5 595.4 L185.7 595.6 L185.9 592.7 L186.1 593.8 L186.2 591.6 L186.4 592.0 L186.5 590.5 L186.7 589.6 L186.8 586.2 L186.9 587.3 L187.1 585.6 L187.2 585.6 L187.4 583.6 L187.5 581.8 L187.7 582.5 L187.8 581.8 L187.9 578.2 L188.0 576.9 L188.2 576.8 L188.3 576.5 L188.4 573.7 L188.6 574.1 L188.7 572.9 L188.8 572.8 L188.9 569.4 L189.1 568.3 L189.2 568.6 L189.3 568.4 L189.4 566.8 L189.6 566.3 L189.7 563.4 L189.8 561.5 L190.0 563.0 L190.1 561.7 L190.2 558.2 L190.3 557.4 L190.4 558.8 L190.6 557.6 L190.7 554.6 L190.8 553.8 L190.9 553.4 L191.0 552.8 L191.1 555.0 L191.2 555.8 L191.3 556.1 L191.4 559.1 L191.5 561.9 L191.6 559.5 L191.7 563.0 L191.8 563.7 L192.0 563.5 L192.2 565.9 L192.4 567.5 L192.6 566.6 L192.7 566.1 L192.8 565.9 L192.8 564.1 L192.9 562.0 L193.0 561.8 L193.1 562.0 L193.2 560.4 L193.2 558.3 L193.3 557.1 L193.4 555.5 L193.5 556.6 L193.7 556.0 L194.0 552.6 L194.3 553.2 L194.4 551.9 L194.5 553.4 L194.6 556.3 L194.7 556.4 L194.8 557.7 L194.9 557.2 L195.1 560.1 L195.2 561.0 L195.4 561.1 L195.6 563.8 L195.8 563.3 L196.0 564.8 L196.2 565.0 L196.4 568.9 L196.6 566.7 L196.7 566.9 L196.9 563.7 L197.1 564.3 L197.2 562.9 L197.4 559.3 L197.5 561.8 L197.7 559.1 L197.8 559.4 L197.9 560.6 L198.0 561.3 L198.0 564.3 L198.1 564.1 L198.2 565.1 L198.3 566.2 L198.4 568.2 L198.5 568.9 L198.6 568.7 L198.7 571.0 L198.8 573.4 L198.9 570.2 L198.9 570.9 L199.0 569.8 L199.1 567.3 L199.2 568.2 L199.3 564.4 L199.4 563.3 L199.5 562.9 L199.6 560.7 L199.7 559.5 L199.8 559.5 L200.4 559.0 L201.1 558.4 L201.3 560.6 L201.4 560.4 L201.6 561.3 L201.8 560.3 L202.0 561.3 L202.2 564.4 L202.4 564.5 L202.5 568.3 L202.6 568.7 L202.8 567.2 L202.9 568.0 L203.1 571.9 L203.2 573.4 L203.4 571.5 L203.6 568.0 L203.8 570.0 L204.0 568.2 L204.2 570.0 L204.4 570.2 L204.6 571.3 L204.7 573.1 L204.9 572.5 L205.1 572.7 L205.2 573.8 L205.3 575.5 L205.4 578.0 L205.5 579.2 L205.5 578.9 L205.6 579.3 L205.7 580.1 L205.8 581.7 L205.9 584.5 L206.0 583.1 L206.1 585.9 L206.2 587.9 L206.3 587.6 L206.4 589.1 L206.5 588.2 L206.6 590.4 L206.7 592.1 L206.8 591.6 L206.9 592.9 L207.0 594.5 L207.1 596.4 L207.2 596.7 L207.3 597.8 L207.4 598.6 L207.5 598.9 L207.6 601.6 L207.7 602.1 L207.8 601.5 L207.9 604.6 L208.0 605.1 L208.1 604.7 L208.2 607.2 L208.3 608.7 L208.5 608.5 L208.6 610.0 L208.7 610.1 L208.8 611.5 L209.0 612.4 L209.1 613.5 L209.2 614.7 L209.3 615.7 L209.5 617.4 L209.6 618.6 L209.8 620.1 L209.9 621.2 L210.1 620.7 L210.2 623.0 L210.4 623.3 L210.5 624.5 L210.7 626.3 L210.8 626.3 L211.1 628.3 L211.4 628.6 L211.7 630.4 L211.9 630.8 L212.2 632.0 L212.5 632.9 L213.0 634.1 L213.6 635.0 L214.1 635.8 L214.6 636.7 L215.7 636.9 L216.7 637.1" fill="none" stroke="#000" stroke-width="1.6" stroke-linejoin="round" stroke-linecap="round"/>
</g>
<rect x="144.00" y="546.30" width="90.80" height="91.00" fill="none" stroke="#5c5c5c" stroke-width="1.0"/>
<clipPath id="cpE3"><rect x="49.40" y="639.30" width="90.90" height="91.10"/></clipPath>
<g clip-path="url(#cpE3)">
<path d="M57.8 730.4 L58.0 729.3 L58.2 728.2 L58.4 727.2 L58.5 726.1 L58.7 725.1 L58.7 724.1 L58.8 723.0 L58.8 722.0 L58.8 720.9 L58.9 720.1 L58.9 718.9 L59.0 718.1 L59.0 716.8 L59.0 715.8 L59.1 714.9 L59.1 713.9 L59.1 713.0 L59.2 712.1 L59.2 710.9 L59.2 709.8 L59.3 709.0 L59.3 707.9 L59.4 706.8 L59.4 705.8 L59.4 704.6 L59.5 703.9 L59.5 702.6 L59.5 701.7 L59.6 700.9 L59.6 699.8 L59.6 698.8 L59.6 697.8 L59.7 696.9 L59.7 695.9 L59.7 694.9 L59.8 693.6 L59.8 692.5 L59.8 691.4 L59.8 690.5 L59.9 689.3 L59.9 688.8 L59.9 687.6 L59.9 686.3 L60.0 685.6 L60.0 684.5 L60.0 683.1 L60.1 682.6 L60.1 681.5 L60.1 680.3 L60.1 679.6 L60.2 678.0 L60.2 676.9 L60.2 676.4 L60.2 675.3 L60.3 673.8 L60.3 673.2 L60.3 672.2 L60.4 671.0 L60.4 669.8 L60.4 669.3 L60.5 668.3 L60.5 667.0 L60.6 665.6 L60.7 664.8 L60.7 663.9 L60.8 662.7 L60.8 661.9 L60.9 660.3 L60.9 659.9 L61.0 658.7 L61.0 657.0 L61.1 655.9 L61.1 655.5 L61.2 654.0 L61.2 653.6 L61.5 652.5 L61.8 650.8 L62.1 650.2 L62.2 650.7 L62.3 652.1 L62.4 652.8 L62.5 654.5 L62.5 654.9 L62.6 656.7 L62.7 657.3 L62.8 658.2 L62.9 659.1 L63.0 660.2 L63.0 661.1 L63.0 662.3 L63.1 664.0 L63.1 664.7 L63.2 665.2 L63.2 666.2 L63.2 667.5 L63.3 668.9 L63.3 669.5 L63.4 670.5 L63.4 671.7 L63.4 672.3 L63.5 673.4 L63.5 674.6 L63.6 675.9 L63.6 676.6 L63.7 677.5 L63.7 678.7 L63.7 679.9 L63.8 680.4 L63.8 681.5 L63.9 682.8 L63.9 683.7 L64.0 684.6 L64.0 685.8 L64.1 687.2 L64.1 687.9 L64.2 689.0 L64.2 690.5 L64.3 691.2 L64.4 692.6 L64.4 693.6 L64.5 694.4 L64.5 695.4 L64.6 696.3 L64.6 697.5 L64.7 698.7 L64.8 700.0 L64.9 700.5 L65.0 702.0 L65.1 703.1 L65.2 704.1 L65.3 705.0 L65.3 706.1 L65.4 707.0 L65.5 707.9 L65.6 709.2 L65.7 710.4 L65.8 711.2 L65.9 712.4 L66.0 713.3 L66.2 714.4 L66.4 715.7 L66.5 716.5 L66.7 717.7 L66.8 718.7 L67.0 719.7 L67.2 721.0 L67.5 721.9 L67.8 723.0 L68.2 724.1 L68.5 725.1 L68.8 726.1 L69.6 727.0 L70.3 728.0 L71.0 728.9 L72.0 729.4 L73.1 729.9 L74.1 730.4" fill="#dcdcdc" stroke="#b4b4b4" stroke-width="0.8" stroke-linejoin="round" stroke-linecap="round"/>
<path d="M59.3 730.4 L60.0 729.3 L60.7 728.4 L61.4 727.0 L61.8 726.0 L62.1 725.4 L62.5 724.2 L62.9 722.6 L63.2 721.7 L63.6 721.3 L63.9 719.7 L64.2 718.1 L64.5 718.2 L64.8 716.1 L65.1 715.8 L65.4 714.7 L65.7 713.4 L65.9 713.1 L66.1 710.8 L66.3 710.5 L66.5 708.5 L66.7 709.0 L66.9 706.5 L67.2 706.1 L67.5 705.6 L67.8 704.7 L68.1 702.1 L68.4 702.6 L68.8 703.6 L69.1 703.6 L69.5 705.5 L69.6 703.4 L69.8 702.2 L69.9 701.1 L70.1 700.4 L70.2 700.4 L70.4 698.6 L70.5 698.7 L70.9 697.4 L71.3 694.8 L71.7 694.3 L72.0 692.3 L72.6 694.6 L73.1 695.7 L73.3 694.6 L73.4 692.4 L73.6 692.6 L73.8 690.3 L74.0 691.0 L74.1 689.0 L74.4 687.0 L74.7 688.3 L74.9 687.1 L75.2 684.4 L75.5 685.0 L75.8 682.2 L76.0 681.8 L76.3 680.9 L76.6 680.5 L76.9 677.3 L77.1 676.1 L77.4 675.3 L77.6 675.0 L77.9 675.2 L78.1 674.0 L78.4 670.9 L78.7 671.9 L79.1 669.0 L79.5 667.4 L79.8 667.9 L80.1 668.3 L80.3 667.3 L80.5 664.6 L80.7 664.8 L80.9 661.6 L81.1 660.4 L81.5 662.3 L81.9 660.1 L82.2 657.2 L82.6 656.8 L83.3 659.5 L84.1 657.8 L84.3 657.2 L84.4 658.6 L84.6 655.3 L84.8 655.0 L85.0 653.9 L85.2 653.1 L85.3 651.3 L85.8 650.0 L86.2 651.2 L86.6 650.0 L87.3 649.8 L87.9 644.8 L88.0 646.4 L88.2 650.4 L88.4 649.2 L88.5 652.2 L88.7 651.3 L88.8 652.7 L89.0 654.9 L89.2 655.0 L89.3 654.3 L89.5 651.3 L89.7 653.5 L89.9 651.5 L90.1 649.0 L90.2 648.8 L90.4 648.5 L90.6 650.7 L90.7 648.0 L90.8 652.8 L90.9 652.5 L91.1 651.3 L91.2 653.7 L91.3 656.2 L91.4 654.8 L91.6 657.7 L91.7 658.7 L92.1 659.8 L92.5 658.8 L93.0 659.8 L93.1 662.3 L93.3 658.2 L93.5 657.2 L93.7 657.7 L93.9 654.4 L94.1 656.2 L94.2 655.3 L94.5 654.6 L94.7 656.7 L95.0 657.3 L95.2 659.2 L95.5 658.3 L95.7 658.8 L95.9 660.1 L96.1 664.3 L96.3 665.5 L96.6 664.0 L96.8 666.7 L96.9 666.0 L97.1 668.3 L97.2 668.6 L97.4 670.3 L97.6 672.5 L97.7 673.4 L97.9 674.6 L98.0 675.4 L98.2 675.3 L98.3 675.5 L98.5 678.5 L98.6 679.0 L98.8 678.5 L98.9 680.3 L99.1 680.4 L99.2 683.6 L99.4 685.0 L99.5 683.5 L99.9 686.3 L100.3 688.1 L100.6 689.1 L101.0 689.7 L101.2 689.2 L101.3 691.4 L101.5 691.9 L101.7 693.5 L101.9 694.1 L102.0 694.8 L102.2 696.7 L102.4 696.7 L102.5 697.8 L102.7 700.0 L102.9 701.3 L103.1 701.0 L103.3 702.0 L103.5 703.8 L103.8 704.2 L104.0 706.9 L104.2 706.7 L104.4 707.3 L104.6 709.2 L104.8 710.3 L104.9 711.2 L105.1 712.5 L105.3 712.8 L105.5 714.0 L105.7 715.7 L105.9 716.0 L106.2 717.6 L106.5 718.4 L106.8 720.1 L107.1 720.9 L107.4 722.0 L107.7 722.7 L108.0 724.0 L108.5 725.1 L109.0 726.1 L109.6 727.2 L110.1 728.3 L111.2 728.9 L112.2 729.5 L113.3 730.2 L114.3 730.2 L115.4 730.3 L116.4 730.4" fill="none" stroke="#000" stroke-width="1.6" stroke-linejoin="round" stroke-linecap="round"/>
</g>
<rect x="49.40" y="639.30" width="90.90" height="91.10" fill="none" stroke="#5c5c5c" stroke-width="1.0"/>
<clipPath id="cpE4"><rect x="145.20" y="639.30" width="89.80" height="91.10"/></clipPath>
<g clip-path="url(#cpE4)">
<path d="M152.8 730.4 L153.0 729.3 L153.2 728.2 L153.4 727.2 L153.5 726.2 L153.7 725.1 L153.7 724.1 L153.8 723.1 L153.9 722.0 L153.9 721.1 L154.0 720.0 L154.0 719.1 L154.1 718.1 L154.1 717.1 L154.2 716.0 L154.2 714.8 L154.3 713.8 L154.4 713.0 L154.4 711.8 L154.5 711.0 L154.5 710.0 L154.6 708.7 L154.6 708.0 L154.7 706.7 L154.7 706.0 L154.8 705.0 L154.9 703.7 L154.9 702.9 L155.0 701.9 L155.0 700.6 L155.0 699.9 L155.1 698.5 L155.1 697.9 L155.2 696.8 L155.2 695.9 L155.2 694.4 L155.3 693.5 L155.3 692.7 L155.4 691.6 L155.4 690.4 L155.5 689.8 L155.5 688.7 L155.5 687.4 L155.6 686.2 L155.6 685.5 L155.7 684.3 L155.7 683.5 L155.7 682.4 L155.8 681.3 L155.8 680.0 L155.9 679.0 L155.9 678.2 L155.9 677.4 L156.0 676.2 L156.0 675.4 L156.1 674.2 L156.1 673.5 L156.2 672.3 L156.2 671.0 L156.2 669.8 L156.3 668.7 L156.4 667.6 L156.4 667.2 L156.5 666.2 L156.5 665.0 L156.6 663.4 L156.7 662.8 L156.7 661.3 L156.8 660.9 L156.8 659.6 L156.9 658.7 L157.0 657.5 L157.0 656.2 L157.1 655.6 L157.4 654.7 L157.6 652.9 L157.9 652.0 L158.0 653.4 L158.2 654.4 L158.3 655.2 L158.4 656.3 L158.5 657.8 L158.7 658.2 L158.8 659.2 L158.8 660.7 L158.9 661.3 L159.0 662.9 L159.0 663.4 L159.1 664.9 L159.1 665.4 L159.2 666.9 L159.3 667.8 L159.3 668.8 L159.4 669.3 L159.4 670.3 L159.5 671.2 L159.6 672.3 L159.6 673.7 L159.7 674.3 L159.7 675.4 L159.8 676.7 L159.9 677.4 L159.9 678.5 L160.0 679.4 L160.0 680.8 L160.1 681.4 L160.2 683.1 L160.3 683.9 L160.4 685.0 L160.4 686.0 L160.5 687.0 L160.6 688.4 L160.7 689.4 L160.8 690.4 L160.8 690.9 L160.9 692.3 L161.0 693.6 L161.1 694.5 L161.2 695.5 L161.2 696.6 L161.3 697.4 L161.4 698.8 L161.6 699.8 L161.7 700.5 L161.8 701.8 L161.9 702.9 L162.0 703.9 L162.2 705.1 L162.3 706.2 L162.4 707.3 L162.5 708.1 L162.7 709.1 L162.8 710.4 L163.1 711.4 L163.3 712.5 L163.6 713.6 L163.8 714.4 L164.1 715.6 L164.4 716.5 L164.6 717.8 L164.9 718.8 L165.4 719.5 L166.0 720.5 L166.5 721.4 L167.0 722.2 L167.6 723.1 L168.1 724.0 L168.9 724.7 L169.7 725.6 L170.5 726.5 L171.3 727.2 L172.3 727.8 L173.4 728.5 L174.4 729.1 L175.5 729.7" fill="#dcdcdc" stroke="#b4b4b4" stroke-width="0.8" stroke-linejoin="round" stroke-linecap="round"/>
<path d="M157.5 730.4 L158.6 730.1 L159.6 729.8 L160.7 729.6 L161.7 729.3 L162.8 728.8 L163.8 728.2 L164.9 727.8 L165.7 726.8 L166.5 726.3 L167.3 725.4 L168.1 724.9 L169.1 724.5 L170.2 723.5 L171.3 723.1 L172.3 722.8 L173.4 722.0 L174.4 721.0 L175.5 721.0 L176.2 722.1 L177.0 722.0 L177.5 722.0 L178.1 721.0 L178.7 719.6 L180.3 720.4 L180.6 720.4 L180.9 718.5 L181.2 717.1 L181.5 716.0 L181.8 716.1 L182.3 714.7 L182.7 713.9 L183.1 712.8 L183.5 711.4 L183.9 711.1 L184.2 709.0 L184.5 708.3 L184.7 707.7 L185.0 706.3 L185.3 705.7 L185.5 704.1 L185.8 703.3 L186.1 700.9 L186.2 700.2 L186.4 699.2 L186.6 697.7 L186.8 697.0 L187.0 695.6 L187.2 695.0 L187.4 694.7 L187.5 693.0 L187.7 692.0 L187.8 690.5 L188.0 689.6 L188.1 690.2 L188.2 688.4 L188.4 687.3 L188.5 685.1 L188.7 685.5 L188.8 682.9 L189.0 682.4 L189.1 683.1 L189.2 681.1 L189.4 679.8 L189.5 679.1 L189.6 678.5 L189.7 677.3 L189.8 674.5 L190.0 672.8 L190.1 672.7 L190.2 671.4 L190.3 670.2 L190.4 671.6 L190.6 670.3 L190.7 667.3 L190.8 667.4 L190.9 665.5 L191.1 666.3 L191.2 663.6 L191.4 661.8 L191.5 660.7 L191.7 660.8 L191.8 658.6 L192.0 658.8 L192.1 658.9 L192.3 655.9 L192.4 654.2 L192.8 658.3 L193.1 657.4 L193.5 656.9 L193.6 655.6 L193.7 654.8 L193.9 655.8 L194.0 655.4 L194.1 652.8 L194.3 650.3 L194.4 650.6 L194.5 652.1 L194.7 649.0 L194.8 649.9 L195.0 648.4 L195.2 643.6 L195.3 647.8 L195.4 648.6 L195.5 649.1 L195.6 649.0 L195.8 651.6 L195.9 650.5 L196.0 652.9 L196.2 654.0 L196.4 657.1 L196.6 657.8 L196.9 656.5 L197.1 658.4 L197.3 658.3 L197.5 662.1 L197.6 663.0 L197.8 661.9 L198.0 664.2 L198.2 665.2 L198.4 664.6 L198.5 667.8 L199.0 666.0 L199.4 665.8 L199.8 663.8 L200.0 663.0 L200.2 665.2 L200.4 665.2 L200.5 669.4 L200.7 670.3 L200.9 671.2 L201.1 670.5 L201.2 668.6 L201.3 670.3 L201.4 669.5 L201.5 665.5 L201.6 665.8 L201.6 663.3 L201.7 664.7 L201.8 663.6 L201.9 660.2 L202.0 662.5 L202.1 663.8 L202.1 663.8 L202.2 667.0 L202.2 666.4 L202.3 666.7 L202.4 668.8 L202.4 670.4 L202.5 669.7 L202.6 671.0 L202.6 674.3 L202.7 674.2 L202.8 674.5 L202.8 675.7 L202.9 675.5 L202.9 676.9 L203.0 678.2 L203.1 680.0 L203.1 679.9 L203.2 680.9 L203.3 679.4 L203.4 680.0 L203.5 677.7 L203.6 678.7 L203.7 677.5 L203.8 674.0 L203.9 673.5 L204.0 673.8 L204.1 671.3 L204.2 669.9 L204.3 671.5 L204.4 669.3 L204.5 667.9 L204.9 670.0 L205.3 671.1 L205.7 670.1 L205.8 670.9 L206.0 673.0 L206.1 674.1 L206.2 675.3 L206.3 677.1 L206.4 678.0 L206.5 680.0 L206.6 678.4 L206.8 680.4 L206.9 681.3 L207.0 683.8 L207.1 683.1 L207.2 684.0 L207.4 685.8 L207.5 686.8 L207.7 687.5 L207.8 688.5 L208.0 691.2 L208.1 691.1 L208.3 693.2 L208.4 693.5 L208.5 693.4 L208.7 696.6 L208.9 697.3 L209.0 698.6 L209.2 699.6 L209.4 700.4 L209.5 700.1 L209.7 701.8 L209.9 702.3 L210.1 703.7 L210.2 704.1 L210.4 705.8 L210.5 708.0 L210.7 707.7 L210.8 709.7 L211.0 710.2 L211.1 711.2 L211.2 713.1 L211.4 714.2 L211.5 714.6 L211.7 715.9 L211.8 716.1 L211.9 717.4 L212.1 719.4 L212.3 719.9 L212.6 720.9 L212.8 722.2 L213.0 722.5 L213.3 724.1 L213.5 725.1 L213.8 726.3 L214.3 726.9 L214.7 728.1 L215.2 728.8 L215.7 729.7 L216.7 730.1 L217.8 730.4" fill="none" stroke="#000" stroke-width="1.6" stroke-linejoin="round" stroke-linecap="round"/>
</g>
<rect x="145.20" y="639.30" width="89.80" height="91.10" fill="none" stroke="#5c5c5c" stroke-width="1.0"/>
<text x="57.10" y="59.00" font-size="10.8" text-anchor="start" fill="#111" font-weight="normal"  stroke="#111" stroke-width="0.28">92</text>
<text x="141.00" y="59.00" font-size="10.8" text-anchor="end" fill="#111" font-weight="normal"  stroke="#111" stroke-width="0.28">10864</text>
<text x="57.10" y="70.00" font-size="10.8" text-anchor="start" fill="#8c8c8c" font-weight="normal"  stroke="#8c8c8c" stroke-width="0.28">89.9</text>
<text x="141.00" y="70.00" font-size="10.8" text-anchor="end" fill="#8c8c8c" font-weight="normal"  stroke="#8c8c8c" stroke-width="0.28">5867</text>
<text x="145.20" y="58.70" font-size="10.8" text-anchor="start" fill="#111" font-weight="normal"  stroke="#111" stroke-width="0.28">94.4</text>
<text x="230.00" y="58.70" font-size="10.8" text-anchor="end" fill="#111" font-weight="normal"  stroke="#111" stroke-width="0.28">18934</text>
<text x="145.20" y="70.00" font-size="10.8" text-anchor="start" fill="#8c8c8c" font-weight="normal"  stroke="#8c8c8c" stroke-width="0.28">95.6</text>
<text x="230.00" y="70.00" font-size="10.8" text-anchor="end" fill="#8c8c8c" font-weight="normal"  stroke="#8c8c8c" stroke-width="0.28">13515</text>
<text x="57.10" y="152.30" font-size="10.8" text-anchor="start" fill="#111" font-weight="normal"  stroke="#111" stroke-width="0.28">94.9</text>
<text x="141.00" y="152.30" font-size="10.8" text-anchor="end" fill="#111" font-weight="normal"  stroke="#111" stroke-width="0.28">16198</text>
<text x="57.10" y="163.60" font-size="10.8" text-anchor="start" fill="#8c8c8c" font-weight="normal"  stroke="#8c8c8c" stroke-width="0.28">82.3</text>
<text x="141.00" y="163.60" font-size="10.8" text-anchor="end" fill="#8c8c8c" font-weight="normal"  stroke="#8c8c8c" stroke-width="0.28">10056</text>
<text x="145.60" y="152.30" font-size="10.8" text-anchor="start" fill="#111" font-weight="normal"  stroke="#111" stroke-width="0.28">99.2</text>
<text x="230.00" y="152.30" font-size="10.8" text-anchor="end" fill="#111" font-weight="normal"  stroke="#111" stroke-width="0.28">40639</text>
<text x="145.60" y="163.90" font-size="10.8" text-anchor="start" fill="#8c8c8c" font-weight="normal"  stroke="#8c8c8c" stroke-width="0.28">99.3</text>
<text x="230.00" y="163.90" font-size="10.8" text-anchor="end" fill="#8c8c8c" font-weight="normal"  stroke="#8c8c8c" stroke-width="0.28">36408</text>
<text x="52.60" y="307.40" font-size="10.8" text-anchor="start" fill="#111" font-weight="normal"  stroke="#111" stroke-width="0.28">87.8</text>
<text x="140.20" y="307.40" font-size="10.8" text-anchor="end" fill="#111" font-weight="normal"  stroke="#111" stroke-width="0.28">9375</text>
<text x="52.60" y="318.30" font-size="10.8" text-anchor="start" fill="#8c8c8c" font-weight="normal"  stroke="#8c8c8c" stroke-width="0.28">89.5</text>
<text x="140.20" y="318.30" font-size="10.8" text-anchor="end" fill="#8c8c8c" font-weight="normal"  stroke="#8c8c8c" stroke-width="0.28">8220</text>
<text x="145.20" y="307.40" font-size="10.8" text-anchor="start" fill="#111" font-weight="normal"  stroke="#111" stroke-width="0.28">96.3</text>
<text x="231.40" y="307.40" font-size="10.8" text-anchor="end" fill="#111" font-weight="normal"  stroke="#111" stroke-width="0.28">28297</text>
<text x="145.20" y="318.30" font-size="10.8" text-anchor="start" fill="#8c8c8c" font-weight="normal"  stroke="#8c8c8c" stroke-width="0.28">82.1</text>
<text x="231.40" y="318.30" font-size="10.8" text-anchor="end" fill="#8c8c8c" font-weight="normal"  stroke="#8c8c8c" stroke-width="0.28">10728</text>
<text x="52.60" y="400.30" font-size="10.8" text-anchor="start" fill="#111" font-weight="normal"  stroke="#111" stroke-width="0.28">98.5</text>
<text x="139.20" y="400.30" font-size="10.8" text-anchor="end" fill="#111" font-weight="normal"  stroke="#111" stroke-width="0.28">18322</text>
<text x="52.60" y="410.90" font-size="10.8" text-anchor="start" fill="#8c8c8c" font-weight="normal"  stroke="#8c8c8c" stroke-width="0.28">98.8</text>
<text x="139.20" y="410.90" font-size="10.8" text-anchor="end" fill="#8c8c8c" font-weight="normal"  stroke="#8c8c8c" stroke-width="0.28">17465</text>
<text x="145.80" y="401.00" font-size="10.8" text-anchor="start" fill="#111" font-weight="normal"  stroke="#111" stroke-width="0.28">99.8</text>
<text x="233.00" y="401.00" font-size="10.8" text-anchor="end" fill="#111" font-weight="normal"  stroke="#111" stroke-width="0.28">54002</text>
<text x="145.80" y="411.60" font-size="10.8" text-anchor="start" fill="#8c8c8c" font-weight="normal"  stroke="#8c8c8c" stroke-width="0.28">95.2</text>
<text x="233.00" y="411.60" font-size="10.8" text-anchor="end" fill="#8c8c8c" font-weight="normal"  stroke="#8c8c8c" stroke-width="0.28">20473</text>
<text x="50.90" y="556.10" font-size="10.8" text-anchor="start" fill="#111" font-weight="normal"  stroke="#111" stroke-width="0.28">93.2</text>
<text x="139.60" y="556.10" font-size="10.8" text-anchor="end" fill="#111" font-weight="normal"  stroke="#111" stroke-width="0.28">1295</text>
<text x="145.70" y="558.30" font-size="10.8" text-anchor="start" fill="#111" font-weight="normal"  stroke="#111" stroke-width="0.28">95.8</text>
<text x="234.40" y="557.50" font-size="10.8" text-anchor="end" fill="#111" font-weight="normal"  stroke="#111" stroke-width="0.28">3895</text>
<text x="53.00" y="649.30" font-size="10.8" text-anchor="start" fill="#111" font-weight="normal"  stroke="#111" stroke-width="0.28">86.1</text>
<text x="138.80" y="649.30" font-size="10.8" text-anchor="end" fill="#111" font-weight="normal"  stroke="#111" stroke-width="0.28">1161</text>
<text x="146.40" y="651.70" font-size="10.8" text-anchor="start" fill="#111" font-weight="normal"  stroke="#111" stroke-width="0.28">98.2</text>
<text x="234.40" y="651.30" font-size="10.8" text-anchor="end" fill="#111" font-weight="normal"  stroke="#111" stroke-width="0.28">4267</text>
<text x="0.90" y="10.70" font-size="14" text-anchor="start" fill="#111" font-weight="bold" stroke="#111" stroke-width="0.4">A</text>
<text x="275.90" y="10.60" font-size="14" text-anchor="start" fill="#111" font-weight="bold" stroke="#111" stroke-width="0.4">B</text>
<text x="0.30" y="279.90" font-size="14" text-anchor="start" fill="#111" font-weight="bold" stroke="#111" stroke-width="0.4">C</text>
<text x="276.30" y="279.30" font-size="14" text-anchor="start" fill="#111" font-weight="bold" stroke="#111" stroke-width="0.4">D</text>
<text x="-0.10" y="534.10" font-size="14" text-anchor="start" fill="#111" font-weight="bold" stroke="#111" stroke-width="0.4">E</text>
<text x="276.70" y="534.10" font-size="14" text-anchor="start" fill="#111" font-weight="bold" stroke="#111" stroke-width="0.4">F</text>
<text x="103.50" y="45.00" font-size="10.8" text-anchor="middle" fill="#111" font-weight="normal"  stroke="#111" stroke-width="0.28">DMSO</text>
<text x="185.00" y="30.50" font-size="10.8" text-anchor="middle" fill="#111" font-weight="normal"  stroke="#111" stroke-width="0.28">Torin1</text>
<text x="185.00" y="43.00" font-size="10.8" text-anchor="middle" fill="#111" font-weight="normal"  stroke="#111" stroke-width="0.28">(100 nM)</text>
<line x1="188.60" y1="7.10" x2="200.80" y2="7.10" stroke="#111" stroke-width="1.7" stroke-linecap="butt"/>
<text x="204.00" y="10.20" font-size="9" text-anchor="start" fill="#111" font-weight="normal"  stroke="#111" stroke-width="0.28">WT</text>
<line x1="188.80" y1="15.10" x2="200.80" y2="15.10" stroke="#858585" stroke-width="1.0" stroke-linecap="butt"/>
<text x="203.80" y="18.90" font-size="9" text-anchor="start" fill="#111" font-weight="normal"  stroke="#111" stroke-width="0.28">IRF-1 null</text>
<text x="4.60" y="190.00" font-size="10.5" text-anchor="start" fill="#111" font-weight="normal"  stroke="#111" stroke-width="0.28">+LPS</text>
<line x1="51.90" y1="54.20" x2="51.90" y2="189.20" stroke="#111" stroke-width="1.25" stroke-linecap="butt"/>
<polygon points="51.9,49.2 49.8,56.5 54.0,56.5" fill="#111"/>
<text transform="translate(53.60 231.60) rotate(-90)" font-size="8.9" fill="#111" stroke="#111" stroke-width="0.28">% of Max</text>
<text x="55.40" y="240.50" font-size="8.7" text-anchor="start" fill="#111" font-weight="normal"  stroke="#111" stroke-width="0.28">B7-H1</text>
<line x1="83.50" y1="237.30" x2="224.80" y2="236.50" stroke="#111" stroke-width="1.25" stroke-linecap="butt"/>
<polygon points="228.8,236.5 221.2,234.3 221.2,238.7" fill="#111"/>
<text x="98.70" y="292.00" font-size="10.8" text-anchor="middle" fill="#111" font-weight="normal"  stroke="#111" stroke-width="0.28">DMSO</text>
<text x="191.00" y="277.50" font-size="10.8" text-anchor="middle" fill="#111" font-weight="normal"  stroke="#111" stroke-width="0.28">Torin1</text>
<text x="191.00" y="290.00" font-size="10.8" text-anchor="middle" fill="#111" font-weight="normal"  stroke="#111" stroke-width="0.28">(100 nM)</text>
<line x1="189.80" y1="250.90" x2="202.30" y2="250.90" stroke="#111" stroke-width="1.8" stroke-linecap="butt"/>
<text x="202.60" y="253.70" font-size="9.3" text-anchor="start" fill="#111" font-weight="normal"  stroke="#111" stroke-width="0.28">Vehicle</text>
<line x1="189.80" y1="260.10" x2="202.30" y2="260.10" stroke="#808080" stroke-width="1.25" stroke-linecap="butt"/>
<text x="203.40" y="263.00" font-size="9.3" text-anchor="start" fill="#111" font-weight="normal"  stroke="#111" stroke-width="0.28">STAT3 Inhibitor VII</text>
<text x="5.40" y="435.00" font-size="10.5" text-anchor="start" fill="#111" font-weight="normal"  stroke="#111" stroke-width="0.28">+LPS</text>
<line x1="46.30" y1="301.10" x2="47.40" y2="439.20" stroke="#111" stroke-width="1.25" stroke-linecap="butt"/>
<polygon points="46.3,296.1 44.2,303.4 48.4,303.4" fill="#111"/>
<text transform="translate(48.80 479.60) rotate(-90)" font-size="8.9" fill="#111" stroke="#111" stroke-width="0.28">% of Max</text>
<text x="49.70" y="490.50" font-size="8.7" text-anchor="start" fill="#111" font-weight="normal"  stroke="#111" stroke-width="0.28">B7-H1</text>
<line x1="77.60" y1="487.30" x2="230.00" y2="487.30" stroke="#111" stroke-width="1.25" stroke-linecap="butt"/>
<polygon points="234.0,487.3 226.4,485.1 226.4,489.5" fill="#111"/>
<text x="93.00" y="542.80" font-size="10.8" text-anchor="middle" fill="#111" font-weight="normal"  stroke="#111" stroke-width="0.28">DMSO</text>
<text x="191.30" y="530.00" font-size="10.8" text-anchor="middle" fill="#111" font-weight="normal"  stroke="#111" stroke-width="0.28">Torin1</text>
<text x="191.30" y="542.50" font-size="10.8" text-anchor="middle" fill="#111" font-weight="normal"  stroke="#111" stroke-width="0.28">(100 nM)</text>
<line x1="51.30" y1="512.00" x2="58.80" y2="512.00" stroke="#111" stroke-width="2" stroke-linecap="butt"/>
<text x="61.2" y="515.0" font-size="11.15" fill="#111" stroke="#111" stroke-width="0.28"><tspan letter-spacing="0.12">FoxO1/3/4</tspan><tspan font-size="3.9" dy="-4.6" stroke-width="0.15">fl/fl</tspan><tspan dy="4.6" font-size="10.8"> x ROSA26-CreERT2</tspan></text>
<text x="5.80" y="591.50" font-size="10.9" text-anchor="start" fill="#111" font-weight="normal"  stroke="#111" stroke-width="0.28">EtOH</text>
<text x="5.20" y="690.40" font-size="10.7" text-anchor="start" fill="#111" font-weight="normal"  stroke="#111" stroke-width="0.28">4OHT</text>
<line x1="45.60" y1="552.20" x2="45.60" y2="689.90" stroke="#111" stroke-width="1.25" stroke-linecap="butt"/>
<polygon points="45.6,547.2 43.5,554.5 47.7,554.5" fill="#111"/>
<text transform="translate(47.40 730.40) rotate(-90)" font-size="8.9" fill="#111" stroke="#111" stroke-width="0.28">% of Max</text>
<text x="50.90" y="739.80" font-size="8.7" text-anchor="start" fill="#111" font-weight="normal"  stroke="#111" stroke-width="0.28">B7-H1</text>
<line x1="79.50" y1="736.60" x2="231.50" y2="736.60" stroke="#111" stroke-width="1.25" stroke-linecap="butt"/>
<polygon points="235.5,736.6 227.9,734.4 227.9,738.8" fill="#111"/>
<rect x="314.75" y="158.26" width="16.70" height="32.99" fill="#000"/>
<line x1="346.14" y1="169.47" x2="346.14" y2="163.79" stroke="#111" stroke-width="1.4" stroke-linecap="butt"/>
<line x1="341.80" y1="163.79" x2="350.48" y2="163.79" stroke="#111" stroke-width="1.5" stroke-linecap="butt"/>
<rect x="338.59" y="170.28" width="15.10" height="20.98" fill="#6a6a6a" stroke="#000" stroke-width="1.6"/>
<line x1="369.18" y1="132.43" x2="369.18" y2="131.12" stroke="#111" stroke-width="1.4" stroke-linecap="butt"/>
<line x1="364.84" y1="131.12" x2="373.52" y2="131.12" stroke="#111" stroke-width="1.5" stroke-linecap="butt"/>
<rect x="360.83" y="132.43" width="16.70" height="58.82" fill="#000"/>
<line x1="392.22" y1="134.54" x2="392.22" y2="133.89" stroke="#111" stroke-width="1.4" stroke-linecap="butt"/>
<line x1="387.88" y1="133.89" x2="396.56" y2="133.89" stroke="#111" stroke-width="1.5" stroke-linecap="butt"/>
<rect x="384.67" y="135.34" width="15.10" height="55.91" fill="#6a6a6a" stroke="#000" stroke-width="1.6"/>
<line x1="415.26" y1="135.03" x2="415.26" y2="125.93" stroke="#111" stroke-width="1.4" stroke-linecap="butt"/>
<line x1="410.92" y1="125.93" x2="419.60" y2="125.93" stroke="#111" stroke-width="1.5" stroke-linecap="butt"/>
<rect x="406.91" y="135.03" width="16.70" height="56.22" fill="#000"/>
<line x1="438.30" y1="157.94" x2="438.30" y2="154.04" stroke="#111" stroke-width="1.4" stroke-linecap="butt"/>
<line x1="433.96" y1="154.04" x2="442.64" y2="154.04" stroke="#111" stroke-width="1.5" stroke-linecap="butt"/>
<rect x="430.75" y="158.74" width="15.10" height="32.51" fill="#6a6a6a" stroke="#000" stroke-width="1.6"/>
<line x1="461.34" y1="68.08" x2="461.34" y2="67.42" stroke="#111" stroke-width="1.4" stroke-linecap="butt"/>
<line x1="457.00" y1="67.42" x2="465.68" y2="67.42" stroke="#111" stroke-width="1.5" stroke-linecap="butt"/>
<rect x="452.99" y="68.08" width="16.70" height="123.17" fill="#000"/>
<rect x="476.83" y="83.01" width="15.10" height="108.24" fill="#6a6a6a" stroke="#000" stroke-width="1.6"/>
<line x1="311.30" y1="60.55" x2="311.30" y2="191.95" stroke="#111" stroke-width="1.5" stroke-linecap="butt"/>
<line x1="307.10" y1="191.25" x2="495.50" y2="191.25" stroke="#111" stroke-width="1.5" stroke-linecap="butt"/>
<line x1="307.10" y1="191.25" x2="311.30" y2="191.25" stroke="#111" stroke-width="1.4" stroke-linecap="butt"/>
<text x="306.40" y="193.75" font-size="7.2" text-anchor="end" fill="#111" font-weight="normal" stroke="#111" stroke-width="0.25">0</text>
<line x1="307.10" y1="158.75" x2="311.30" y2="158.75" stroke="#111" stroke-width="1.4" stroke-linecap="butt"/>
<text x="306.40" y="161.25" font-size="7.2" text-anchor="end" fill="#111" font-weight="normal" stroke="#111" stroke-width="0.25">1</text>
<line x1="307.10" y1="126.25" x2="311.30" y2="126.25" stroke="#111" stroke-width="1.4" stroke-linecap="butt"/>
<text x="306.40" y="128.75" font-size="7.2" text-anchor="end" fill="#111" font-weight="normal" stroke="#111" stroke-width="0.25">2</text>
<line x1="307.10" y1="93.75" x2="311.30" y2="93.75" stroke="#111" stroke-width="1.4" stroke-linecap="butt"/>
<text x="306.40" y="96.25" font-size="7.2" text-anchor="end" fill="#111" font-weight="normal" stroke="#111" stroke-width="0.25">3</text>
<line x1="307.10" y1="61.25" x2="311.30" y2="61.25" stroke="#111" stroke-width="1.4" stroke-linecap="butt"/>
<text x="306.40" y="63.75" font-size="7.2" text-anchor="end" fill="#111" font-weight="normal" stroke="#111" stroke-width="0.25">4</text>
<line x1="323.10" y1="191.25" x2="323.10" y2="196.25" stroke="#111" stroke-width="1.4" stroke-linecap="butt"/>
<line x1="346.14" y1="191.25" x2="346.14" y2="196.25" stroke="#111" stroke-width="1.4" stroke-linecap="butt"/>
<line x1="369.18" y1="191.25" x2="369.18" y2="196.25" stroke="#111" stroke-width="1.4" stroke-linecap="butt"/>
<line x1="392.22" y1="191.25" x2="392.22" y2="196.25" stroke="#111" stroke-width="1.4" stroke-linecap="butt"/>
<line x1="415.26" y1="191.25" x2="415.26" y2="196.25" stroke="#111" stroke-width="1.4" stroke-linecap="butt"/>
<line x1="438.30" y1="191.25" x2="438.30" y2="196.25" stroke="#111" stroke-width="1.4" stroke-linecap="butt"/>
<line x1="461.34" y1="191.25" x2="461.34" y2="196.25" stroke="#111" stroke-width="1.4" stroke-linecap="butt"/>
<line x1="484.38" y1="191.25" x2="484.38" y2="196.25" stroke="#111" stroke-width="1.4" stroke-linecap="butt"/>
<text transform="translate(296.00 126.25) rotate(-90)" font-size="9" text-anchor="middle" fill="#111" stroke="#111" stroke-width="0.28">Relative MFI</text>
<text x="285.50" y="208.80" font-size="9" text-anchor="start" fill="#111" font-weight="normal"  stroke="#111" stroke-width="0.28">DMSO</text>
<line x1="320.50" y1="205.00" x2="325.70" y2="205.00" stroke="#111" stroke-width="1.1" stroke-linecap="butt"/>
<line x1="323.10" y1="202.40" x2="323.10" y2="207.60" stroke="#111" stroke-width="1.1" stroke-linecap="butt"/>
<line x1="343.54" y1="205.00" x2="348.74" y2="205.00" stroke="#111" stroke-width="1.1" stroke-linecap="butt"/>
<line x1="346.14" y1="202.40" x2="346.14" y2="207.60" stroke="#111" stroke-width="1.1" stroke-linecap="butt"/>
<line x1="412.66" y1="205.00" x2="417.86" y2="205.00" stroke="#111" stroke-width="1.1" stroke-linecap="butt"/>
<line x1="415.26" y1="202.40" x2="415.26" y2="207.60" stroke="#111" stroke-width="1.1" stroke-linecap="butt"/>
<line x1="435.70" y1="205.00" x2="440.90" y2="205.00" stroke="#111" stroke-width="1.1" stroke-linecap="butt"/>
<line x1="438.30" y1="202.40" x2="438.30" y2="207.60" stroke="#111" stroke-width="1.1" stroke-linecap="butt"/>
<text x="285.50" y="220.20" font-size="9" text-anchor="start" fill="#111" font-weight="normal"  stroke="#111" stroke-width="0.28">Torin1</text>
<line x1="366.58" y1="216.00" x2="371.78" y2="216.00" stroke="#111" stroke-width="1.1" stroke-linecap="butt"/>
<line x1="369.18" y1="213.40" x2="369.18" y2="218.60" stroke="#111" stroke-width="1.1" stroke-linecap="butt"/>
<line x1="389.62" y1="216.00" x2="394.82" y2="216.00" stroke="#111" stroke-width="1.1" stroke-linecap="butt"/>
<line x1="392.22" y1="213.40" x2="392.22" y2="218.60" stroke="#111" stroke-width="1.1" stroke-linecap="butt"/>
<line x1="458.74" y1="216.00" x2="463.94" y2="216.00" stroke="#111" stroke-width="1.1" stroke-linecap="butt"/>
<line x1="461.34" y1="213.40" x2="461.34" y2="218.60" stroke="#111" stroke-width="1.1" stroke-linecap="butt"/>
<line x1="481.78" y1="216.00" x2="486.98" y2="216.00" stroke="#111" stroke-width="1.1" stroke-linecap="butt"/>
<line x1="484.38" y1="213.40" x2="484.38" y2="218.60" stroke="#111" stroke-width="1.1" stroke-linecap="butt"/>
<text x="285.50" y="231.70" font-size="9" text-anchor="start" fill="#111" font-weight="normal"  stroke="#111" stroke-width="0.28">LPS</text>
<line x1="412.66" y1="228.80" x2="417.86" y2="228.80" stroke="#111" stroke-width="1.1" stroke-linecap="butt"/>
<line x1="415.26" y1="226.20" x2="415.26" y2="231.40" stroke="#111" stroke-width="1.1" stroke-linecap="butt"/>
<line x1="435.70" y1="228.80" x2="440.90" y2="228.80" stroke="#111" stroke-width="1.1" stroke-linecap="butt"/>
<line x1="438.30" y1="226.20" x2="438.30" y2="231.40" stroke="#111" stroke-width="1.1" stroke-linecap="butt"/>
<line x1="458.74" y1="228.80" x2="463.94" y2="228.80" stroke="#111" stroke-width="1.1" stroke-linecap="butt"/>
<line x1="461.34" y1="226.20" x2="461.34" y2="231.40" stroke="#111" stroke-width="1.1" stroke-linecap="butt"/>
<line x1="481.78" y1="228.80" x2="486.98" y2="228.80" stroke="#111" stroke-width="1.1" stroke-linecap="butt"/>
<line x1="484.38" y1="226.20" x2="484.38" y2="231.40" stroke="#111" stroke-width="1.1" stroke-linecap="butt"/>
<text x="484.38" y="80.00" font-size="8.2" text-anchor="middle" fill="#111" font-weight="normal" stroke="#111" stroke-width="0.5">*</text>
<rect x="432.20" y="22.70" width="9.70" height="9.10" fill="#000" stroke="none" stroke-width="0"/>
<rect x="432.20" y="35.00" width="9.70" height="9.60" fill="#969696" stroke="none" stroke-width="0"/>
<text x="445.20" y="30.40" font-size="9" text-anchor="start" fill="#111" font-weight="normal"  stroke="#111" stroke-width="0.28">WT</text>
<text x="444.90" y="43.30" font-size="9" text-anchor="start" fill="#111" font-weight="normal"  stroke="#111" stroke-width="0.28">IRF-1 null</text>
<rect x="314.90" y="419.20" width="17.70" height="21.55" fill="#000"/>
<line x1="348.07" y1="418.12" x2="348.07" y2="416.29" stroke="#111" stroke-width="1.4" stroke-linecap="butt"/>
<line x1="343.47" y1="416.29" x2="352.67" y2="416.29" stroke="#111" stroke-width="1.5" stroke-linecap="butt"/>
<rect x="340.02" y="418.92" width="16.10" height="21.83" fill="#6a6a6a" stroke="#000" stroke-width="1.6"/>
<line x1="372.39" y1="398.08" x2="372.39" y2="381.27" stroke="#111" stroke-width="1.4" stroke-linecap="butt"/>
<line x1="367.79" y1="381.27" x2="376.99" y2="381.27" stroke="#111" stroke-width="1.5" stroke-linecap="butt"/>
<rect x="363.54" y="398.08" width="17.70" height="42.67" fill="#000"/>
<line x1="396.71" y1="421.36" x2="396.71" y2="417.05" stroke="#111" stroke-width="1.4" stroke-linecap="butt"/>
<line x1="392.11" y1="417.05" x2="401.31" y2="417.05" stroke="#111" stroke-width="1.5" stroke-linecap="butt"/>
<rect x="388.66" y="422.16" width="16.10" height="18.59" fill="#6a6a6a" stroke="#000" stroke-width="1.6"/>
<line x1="421.03" y1="401.96" x2="421.03" y2="397.00" stroke="#111" stroke-width="1.4" stroke-linecap="butt"/>
<line x1="416.43" y1="397.00" x2="425.63" y2="397.00" stroke="#111" stroke-width="1.5" stroke-linecap="butt"/>
<rect x="412.18" y="401.96" width="17.70" height="38.79" fill="#000"/>
<line x1="445.35" y1="407.99" x2="445.35" y2="401.96" stroke="#111" stroke-width="1.4" stroke-linecap="butt"/>
<line x1="440.75" y1="401.96" x2="449.95" y2="401.96" stroke="#111" stroke-width="1.5" stroke-linecap="butt"/>
<rect x="437.30" y="408.79" width="16.10" height="31.96" fill="#6a6a6a" stroke="#000" stroke-width="1.6"/>
<line x1="469.67" y1="351.75" x2="469.67" y2="324.60" stroke="#111" stroke-width="1.4" stroke-linecap="butt"/>
<line x1="465.07" y1="324.60" x2="474.27" y2="324.60" stroke="#111" stroke-width="1.5" stroke-linecap="butt"/>
<rect x="460.82" y="351.75" width="17.70" height="89.00" fill="#000"/>
<line x1="493.99" y1="413.17" x2="493.99" y2="400.02" stroke="#111" stroke-width="1.4" stroke-linecap="butt"/>
<line x1="489.39" y1="400.02" x2="498.59" y2="400.02" stroke="#111" stroke-width="1.5" stroke-linecap="butt"/>
<rect x="485.94" y="413.97" width="16.10" height="26.78" fill="#6a6a6a" stroke="#000" stroke-width="1.6"/>
<line x1="311.80" y1="310.75" x2="311.80" y2="441.45" stroke="#111" stroke-width="1.5" stroke-linecap="butt"/>
<line x1="307.60" y1="440.75" x2="506.30" y2="440.75" stroke="#111" stroke-width="1.5" stroke-linecap="butt"/>
<line x1="307.60" y1="440.75" x2="311.80" y2="440.75" stroke="#111" stroke-width="1.4" stroke-linecap="butt"/>
<text x="306.90" y="443.25" font-size="7.2" text-anchor="end" fill="#111" font-weight="normal" stroke="#111" stroke-width="0.25">0</text>
<line x1="307.60" y1="397.65" x2="311.80" y2="397.65" stroke="#111" stroke-width="1.4" stroke-linecap="butt"/>
<text x="306.90" y="400.15" font-size="7.2" text-anchor="end" fill="#111" font-weight="normal" stroke="#111" stroke-width="0.25">2</text>
<line x1="307.60" y1="354.55" x2="311.80" y2="354.55" stroke="#111" stroke-width="1.4" stroke-linecap="butt"/>
<text x="306.90" y="357.05" font-size="7.2" text-anchor="end" fill="#111" font-weight="normal" stroke="#111" stroke-width="0.25">4</text>
<line x1="307.60" y1="311.45" x2="311.80" y2="311.45" stroke="#111" stroke-width="1.4" stroke-linecap="butt"/>
<text x="306.90" y="313.95" font-size="7.2" text-anchor="end" fill="#111" font-weight="normal" stroke="#111" stroke-width="0.25">6</text>
<line x1="323.75" y1="440.75" x2="323.75" y2="445.75" stroke="#111" stroke-width="1.4" stroke-linecap="butt"/>
<line x1="348.07" y1="440.75" x2="348.07" y2="445.75" stroke="#111" stroke-width="1.4" stroke-linecap="butt"/>
<line x1="372.39" y1="440.75" x2="372.39" y2="445.75" stroke="#111" stroke-width="1.4" stroke-linecap="butt"/>
<line x1="396.71" y1="440.75" x2="396.71" y2="445.75" stroke="#111" stroke-width="1.4" stroke-linecap="butt"/>
<line x1="421.03" y1="440.75" x2="421.03" y2="445.75" stroke="#111" stroke-width="1.4" stroke-linecap="butt"/>
<line x1="445.35" y1="440.75" x2="445.35" y2="445.75" stroke="#111" stroke-width="1.4" stroke-linecap="butt"/>
<line x1="469.67" y1="440.75" x2="469.67" y2="445.75" stroke="#111" stroke-width="1.4" stroke-linecap="butt"/>
<line x1="493.99" y1="440.75" x2="493.99" y2="445.75" stroke="#111" stroke-width="1.4" stroke-linecap="butt"/>
<text transform="translate(295.20 376.10) rotate(-90)" font-size="9" text-anchor="middle" fill="#111" stroke="#111" stroke-width="0.28">Relative MFI</text>
<text x="285.00" y="458.80" font-size="9" text-anchor="start" fill="#111" font-weight="normal"  stroke="#111" stroke-width="0.28">DMSO</text>
<line x1="321.15" y1="455.00" x2="326.35" y2="455.00" stroke="#111" stroke-width="1.1" stroke-linecap="butt"/>
<line x1="323.75" y1="452.40" x2="323.75" y2="457.60" stroke="#111" stroke-width="1.1" stroke-linecap="butt"/>
<line x1="345.47" y1="455.00" x2="350.67" y2="455.00" stroke="#111" stroke-width="1.1" stroke-linecap="butt"/>
<line x1="348.07" y1="452.40" x2="348.07" y2="457.60" stroke="#111" stroke-width="1.1" stroke-linecap="butt"/>
<line x1="418.43" y1="455.00" x2="423.63" y2="455.00" stroke="#111" stroke-width="1.1" stroke-linecap="butt"/>
<line x1="421.03" y1="452.40" x2="421.03" y2="457.60" stroke="#111" stroke-width="1.1" stroke-linecap="butt"/>
<line x1="442.75" y1="455.00" x2="447.95" y2="455.00" stroke="#111" stroke-width="1.1" stroke-linecap="butt"/>
<line x1="445.35" y1="452.40" x2="445.35" y2="457.60" stroke="#111" stroke-width="1.1" stroke-linecap="butt"/>
<text x="285.00" y="471.30" font-size="9" text-anchor="start" fill="#111" font-weight="normal"  stroke="#111" stroke-width="0.28">Torin1</text>
<line x1="369.79" y1="468.00" x2="374.99" y2="468.00" stroke="#111" stroke-width="1.1" stroke-linecap="butt"/>
<line x1="372.39" y1="465.40" x2="372.39" y2="470.60" stroke="#111" stroke-width="1.1" stroke-linecap="butt"/>
<line x1="394.11" y1="468.00" x2="399.31" y2="468.00" stroke="#111" stroke-width="1.1" stroke-linecap="butt"/>
<line x1="396.71" y1="465.40" x2="396.71" y2="470.60" stroke="#111" stroke-width="1.1" stroke-linecap="butt"/>
<line x1="467.07" y1="468.00" x2="472.27" y2="468.00" stroke="#111" stroke-width="1.1" stroke-linecap="butt"/>
<line x1="469.67" y1="465.40" x2="469.67" y2="470.60" stroke="#111" stroke-width="1.1" stroke-linecap="butt"/>
<line x1="491.39" y1="468.00" x2="496.59" y2="468.00" stroke="#111" stroke-width="1.1" stroke-linecap="butt"/>
<line x1="493.99" y1="465.40" x2="493.99" y2="470.60" stroke="#111" stroke-width="1.1" stroke-linecap="butt"/>
<text x="285.00" y="483.40" font-size="9" text-anchor="start" fill="#111" font-weight="normal"  stroke="#111" stroke-width="0.28">LPS</text>
<line x1="418.43" y1="481.30" x2="423.63" y2="481.30" stroke="#111" stroke-width="1.1" stroke-linecap="butt"/>
<line x1="421.03" y1="478.70" x2="421.03" y2="483.90" stroke="#111" stroke-width="1.1" stroke-linecap="butt"/>
<line x1="442.75" y1="481.30" x2="447.95" y2="481.30" stroke="#111" stroke-width="1.1" stroke-linecap="butt"/>
<line x1="445.35" y1="478.70" x2="445.35" y2="483.90" stroke="#111" stroke-width="1.1" stroke-linecap="butt"/>
<line x1="467.07" y1="481.30" x2="472.27" y2="481.30" stroke="#111" stroke-width="1.1" stroke-linecap="butt"/>
<line x1="469.67" y1="478.70" x2="469.67" y2="483.90" stroke="#111" stroke-width="1.1" stroke-linecap="butt"/>
<line x1="491.39" y1="481.30" x2="496.59" y2="481.30" stroke="#111" stroke-width="1.1" stroke-linecap="butt"/>
<line x1="493.99" y1="478.70" x2="493.99" y2="483.90" stroke="#111" stroke-width="1.1" stroke-linecap="butt"/>
<text x="396.71" y="415.90" font-size="8.2" text-anchor="middle" fill="#111" font-weight="normal" stroke="#111" stroke-width="0.5">*</text>
<text x="493.99" y="397.90" font-size="8.2" text-anchor="middle" fill="#111" font-weight="normal" stroke="#111" stroke-width="0.5">*</text>
<rect x="432.00" y="265.00" width="9.70" height="10.00" fill="#000" stroke="none" stroke-width="0"/>
<rect x="432.00" y="277.90" width="9.70" height="9.60" fill="#969696" stroke="none" stroke-width="0"/>
<text x="443.30" y="274.00" font-size="9.2" text-anchor="start" fill="#111" font-weight="normal"  stroke="#111" stroke-width="0.28">Vehicle</text>
<text x="443.20" y="286.50" font-size="9.2" text-anchor="start" fill="#111" font-weight="normal"  stroke="#111" stroke-width="0.28">STAT3 Inhibitor VII</text>
<rect x="318.80" y="654.30" width="34.20" height="32.60" fill="#000"/>
<line x1="385.00" y1="655.77" x2="385.00" y2="654.14" stroke="#111" stroke-width="1.4" stroke-linecap="butt"/>
<line x1="376.11" y1="654.14" x2="393.89" y2="654.14" stroke="#111" stroke-width="1.5" stroke-linecap="butt"/>
<rect x="367.90" y="655.77" width="34.20" height="31.13" fill="#000"/>
<line x1="434.10" y1="600.51" x2="434.10" y2="583.88" stroke="#111" stroke-width="1.4" stroke-linecap="butt"/>
<line x1="425.21" y1="583.88" x2="442.99" y2="583.88" stroke="#111" stroke-width="1.5" stroke-linecap="butt"/>
<rect x="417.00" y="600.51" width="34.20" height="86.39" fill="#000"/>
<line x1="483.20" y1="588.77" x2="483.20" y2="575.41" stroke="#111" stroke-width="1.4" stroke-linecap="butt"/>
<line x1="474.31" y1="575.41" x2="492.09" y2="575.41" stroke="#111" stroke-width="1.5" stroke-linecap="butt"/>
<rect x="466.10" y="588.77" width="34.20" height="98.13" fill="#000"/>
<line x1="311.30" y1="555.80" x2="311.30" y2="687.60" stroke="#111" stroke-width="1.5" stroke-linecap="butt"/>
<line x1="307.10" y1="686.90" x2="507.00" y2="686.90" stroke="#111" stroke-width="1.5" stroke-linecap="butt"/>
<line x1="307.10" y1="686.90" x2="311.30" y2="686.90" stroke="#111" stroke-width="1.4" stroke-linecap="butt"/>
<text x="306.40" y="689.40" font-size="7.2" text-anchor="end" fill="#111" font-weight="normal" stroke="#111" stroke-width="0.25">0</text>
<line x1="307.10" y1="654.30" x2="311.30" y2="654.30" stroke="#111" stroke-width="1.4" stroke-linecap="butt"/>
<text x="306.40" y="656.80" font-size="7.2" text-anchor="end" fill="#111" font-weight="normal" stroke="#111" stroke-width="0.25">1</text>
<line x1="307.10" y1="621.70" x2="311.30" y2="621.70" stroke="#111" stroke-width="1.4" stroke-linecap="butt"/>
<text x="306.40" y="624.20" font-size="7.2" text-anchor="end" fill="#111" font-weight="normal" stroke="#111" stroke-width="0.25">2</text>
<line x1="307.10" y1="589.10" x2="311.30" y2="589.10" stroke="#111" stroke-width="1.4" stroke-linecap="butt"/>
<text x="306.40" y="591.60" font-size="7.2" text-anchor="end" fill="#111" font-weight="normal" stroke="#111" stroke-width="0.25">3</text>
<line x1="307.10" y1="556.50" x2="311.30" y2="556.50" stroke="#111" stroke-width="1.4" stroke-linecap="butt"/>
<text x="306.40" y="559.00" font-size="7.2" text-anchor="end" fill="#111" font-weight="normal" stroke="#111" stroke-width="0.25">4</text>
<line x1="335.90" y1="686.90" x2="335.90" y2="691.90" stroke="#111" stroke-width="1.4" stroke-linecap="butt"/>
<line x1="385.00" y1="686.90" x2="385.00" y2="691.90" stroke="#111" stroke-width="1.4" stroke-linecap="butt"/>
<line x1="434.10" y1="686.90" x2="434.10" y2="691.90" stroke="#111" stroke-width="1.4" stroke-linecap="butt"/>
<line x1="483.20" y1="686.90" x2="483.20" y2="691.90" stroke="#111" stroke-width="1.4" stroke-linecap="butt"/>
<text transform="translate(280.40 615.80) rotate(-90)" font-size="9" text-anchor="middle" fill="#111" stroke="#111" stroke-width="0.28">Relative MFI</text>
<text x="283.80" y="705.30" font-size="9" text-anchor="start" fill="#111" font-weight="normal"  stroke="#111" stroke-width="0.28">DMSO</text>
<line x1="333.30" y1="702.00" x2="338.50" y2="702.00" stroke="#111" stroke-width="1.1" stroke-linecap="butt"/>
<line x1="335.90" y1="699.40" x2="335.90" y2="704.60" stroke="#111" stroke-width="1.1" stroke-linecap="butt"/>
<line x1="382.40" y1="702.00" x2="387.60" y2="702.00" stroke="#111" stroke-width="1.1" stroke-linecap="butt"/>
<line x1="385.00" y1="699.40" x2="385.00" y2="704.60" stroke="#111" stroke-width="1.1" stroke-linecap="butt"/>
<text x="283.80" y="718.80" font-size="9" text-anchor="start" fill="#111" font-weight="normal"  stroke="#111" stroke-width="0.28">Torin1</text>
<line x1="431.50" y1="715.30" x2="436.70" y2="715.30" stroke="#111" stroke-width="1.1" stroke-linecap="butt"/>
<line x1="434.10" y1="712.70" x2="434.10" y2="717.90" stroke="#111" stroke-width="1.1" stroke-linecap="butt"/>
<line x1="480.60" y1="715.30" x2="485.80" y2="715.30" stroke="#111" stroke-width="1.1" stroke-linecap="butt"/>
<line x1="483.20" y1="712.70" x2="483.20" y2="717.90" stroke="#111" stroke-width="1.1" stroke-linecap="butt"/>
<text x="283.80" y="732.00" font-size="9" text-anchor="start" fill="#111" font-weight="normal"  stroke="#111" stroke-width="0.28">4OHT</text>
<line x1="382.40" y1="728.30" x2="387.60" y2="728.30" stroke="#111" stroke-width="1.1" stroke-linecap="butt"/>
<line x1="385.00" y1="725.70" x2="385.00" y2="730.90" stroke="#111" stroke-width="1.1" stroke-linecap="butt"/>
<line x1="480.60" y1="728.30" x2="485.80" y2="728.30" stroke="#111" stroke-width="1.1" stroke-linecap="butt"/>
<line x1="483.20" y1="725.70" x2="483.20" y2="730.90" stroke="#111" stroke-width="1.1" stroke-linecap="butt"/>
<rect x="325.50" y="535.00" width="9.50" height="8.80" fill="#000" stroke="none" stroke-width="0"/>
<text x="337" y="543.0" font-size="11.15" fill="#111" stroke="#111" stroke-width="0.28"><tspan letter-spacing="0.12">FoxO1/3/4</tspan><tspan font-size="3.9" dy="-4.6" stroke-width="0.15">fl/fl</tspan><tspan dy="4.6" font-size="10.8"> x ROSA26-CreERT2</tspan></text>
<line x1="336.80" y1="642.50" x2="387.00" y2="642.50" stroke="#111" stroke-width="1.0" stroke-linecap="butt"/>
<text x="363.80" y="638.30" font-size="10.5" text-anchor="middle" fill="#111" font-weight="normal"  stroke="#111" stroke-width="0.28">n.s.</text>
<line x1="435.00" y1="568.80" x2="483.80" y2="568.80" stroke="#111" stroke-width="1.0" stroke-linecap="butt"/>
<text x="457.20" y="564.50" font-size="10.5" text-anchor="middle" fill="#111" font-weight="normal"  stroke="#111" stroke-width="0.28">n.s.</text>
</svg>
</body></html>
